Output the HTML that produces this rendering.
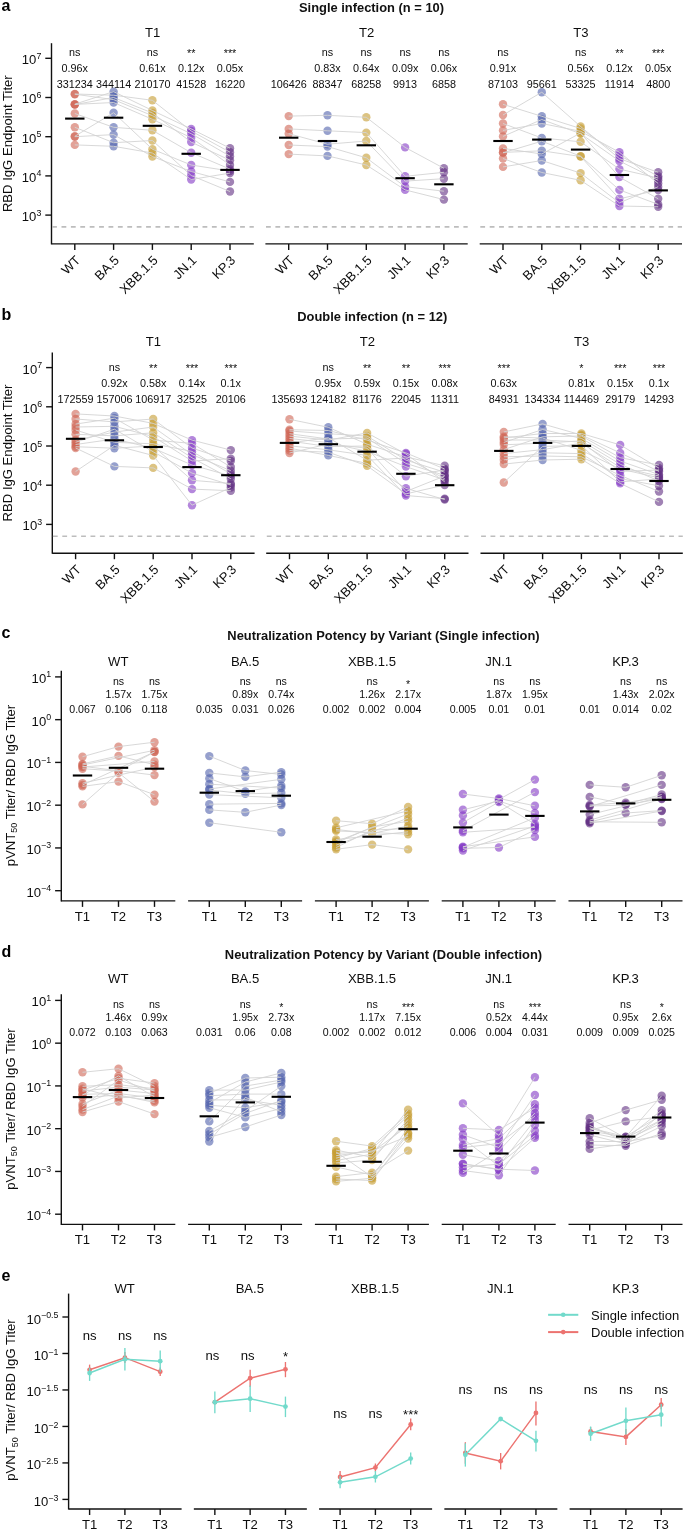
<!DOCTYPE html>
<html><head><meta charset="utf-8"><style>
html,body{margin:0;padding:0;background:#fff;}
svg{display:block;font-family:"Liberation Sans", sans-serif;will-change:transform;}
</style></head><body>
<svg width="685" height="1531" viewBox="0 0 685 1531" font-family='"Liberation Sans", sans-serif'>
<rect width="685" height="1531" fill="#fff"/>
<text x="1.60" y="10.70" font-size="16" text-anchor="start" font-weight="bold" fill="#000" >a</text>
<text x="371.50" y="11.70" font-size="12.9" text-anchor="middle" font-weight="bold" fill="#111" >Single infection (n = 10)</text>
<line x1="51.50" y1="43.20" x2="51.50" y2="244.40" stroke="#111111" stroke-width="1.4" />
<line x1="45.30" y1="58.30" x2="51.50" y2="58.30" stroke="#111111" stroke-width="1.4" />
<text x="41.30" y="64.20" font-size="13.1" text-anchor="end" fill="#0d0d0d">10<tspan font-size="8.8" dy="-5.4">7</tspan></text>
<line x1="45.30" y1="97.50" x2="51.50" y2="97.50" stroke="#111111" stroke-width="1.4" />
<text x="41.30" y="103.40" font-size="13.1" text-anchor="end" fill="#0d0d0d">10<tspan font-size="8.8" dy="-5.4">6</tspan></text>
<line x1="45.30" y1="136.70" x2="51.50" y2="136.70" stroke="#111111" stroke-width="1.4" />
<text x="41.30" y="142.60" font-size="13.1" text-anchor="end" fill="#0d0d0d">10<tspan font-size="8.8" dy="-5.4">5</tspan></text>
<line x1="45.30" y1="175.90" x2="51.50" y2="175.90" stroke="#111111" stroke-width="1.4" />
<text x="41.30" y="181.80" font-size="13.1" text-anchor="end" fill="#0d0d0d">10<tspan font-size="8.8" dy="-5.4">4</tspan></text>
<line x1="45.30" y1="215.10" x2="51.50" y2="215.10" stroke="#111111" stroke-width="1.4" />
<text x="41.30" y="221.00" font-size="13.1" text-anchor="end" fill="#0d0d0d">10<tspan font-size="8.8" dy="-5.4">3</tspan></text>
<text transform="translate(12.2,143.70) rotate(-90)" font-size="13.1" text-anchor="middle" fill="#0d0d0d">RBD IgG Endpoint Titer</text>
<text x="152.65" y="36.50" font-size="13.1" text-anchor="middle" font-weight="normal" fill="#0d0d0d" >T1</text>
<line x1="51.50" y1="243.90" x2="253.80" y2="243.90" stroke="#111111" stroke-width="1.4" />
<line x1="52.10" y1="226.90" x2="253.80" y2="226.90" stroke="#bdbdbd" stroke-width="1.6" stroke-dasharray="4.8,4.6"/>
<line x1="74.80" y1="243.90" x2="74.80" y2="249.90" stroke="#111111" stroke-width="1.4" />
<text transform="translate(74.40,254.40) rotate(-45)" font-size="13" text-anchor="end" dy="0.72em" fill="#0d0d0d">WT</text>
<line x1="113.60" y1="243.90" x2="113.60" y2="249.90" stroke="#111111" stroke-width="1.4" />
<text transform="translate(113.20,254.40) rotate(-45)" font-size="13" text-anchor="end" dy="0.72em" fill="#0d0d0d">BA.5</text>
<line x1="152.40" y1="243.90" x2="152.40" y2="249.90" stroke="#111111" stroke-width="1.4" />
<text transform="translate(152.00,254.40) rotate(-45)" font-size="13" text-anchor="end" dy="0.72em" fill="#0d0d0d">XBB.1.5</text>
<line x1="191.20" y1="243.90" x2="191.20" y2="249.90" stroke="#111111" stroke-width="1.4" />
<text transform="translate(190.80,254.40) rotate(-45)" font-size="13" text-anchor="end" dy="0.72em" fill="#0d0d0d">JN.1</text>
<line x1="230.00" y1="243.90" x2="230.00" y2="249.90" stroke="#111111" stroke-width="1.4" />
<text transform="translate(229.60,254.40) rotate(-45)" font-size="13" text-anchor="end" dy="0.72em" fill="#0d0d0d">KP.3</text>
<circle cx="74.80" cy="94.00" r="4.2" fill="#CF6454" fill-opacity="0.6"/>
<circle cx="74.80" cy="94.20" r="4.2" fill="#CF6454" fill-opacity="0.6"/>
<circle cx="74.80" cy="104.20" r="4.2" fill="#CF6454" fill-opacity="0.6"/>
<circle cx="74.80" cy="104.40" r="4.2" fill="#CF6454" fill-opacity="0.6"/>
<circle cx="74.80" cy="104.60" r="4.2" fill="#CF6454" fill-opacity="0.6"/>
<circle cx="74.80" cy="113.50" r="4.2" fill="#CF6454" fill-opacity="0.6"/>
<circle cx="74.80" cy="127.30" r="4.2" fill="#CF6454" fill-opacity="0.6"/>
<circle cx="74.80" cy="136.30" r="4.2" fill="#CF6454" fill-opacity="0.6"/>
<circle cx="74.80" cy="136.70" r="4.2" fill="#CF6454" fill-opacity="0.6"/>
<circle cx="74.80" cy="144.90" r="4.2" fill="#CF6454" fill-opacity="0.6"/>
<circle cx="113.60" cy="91.60" r="4.2" fill="#5061AC" fill-opacity="0.6"/>
<circle cx="113.60" cy="95.20" r="4.2" fill="#5061AC" fill-opacity="0.6"/>
<circle cx="113.60" cy="97.50" r="4.2" fill="#5061AC" fill-opacity="0.6"/>
<circle cx="113.60" cy="99.60" r="4.2" fill="#5061AC" fill-opacity="0.6"/>
<circle cx="113.60" cy="102.50" r="4.2" fill="#5061AC" fill-opacity="0.6"/>
<circle cx="113.60" cy="112.70" r="4.2" fill="#5061AC" fill-opacity="0.6"/>
<circle cx="113.60" cy="127.30" r="4.2" fill="#5061AC" fill-opacity="0.6"/>
<circle cx="113.60" cy="134.60" r="4.2" fill="#5061AC" fill-opacity="0.6"/>
<circle cx="113.60" cy="142.70" r="4.2" fill="#5061AC" fill-opacity="0.6"/>
<circle cx="113.60" cy="146.30" r="4.2" fill="#5061AC" fill-opacity="0.6"/>
<circle cx="152.40" cy="100.30" r="4.2" fill="#C59B2F" fill-opacity="0.6"/>
<circle cx="152.40" cy="110.50" r="4.2" fill="#C59B2F" fill-opacity="0.6"/>
<circle cx="152.40" cy="113.00" r="4.2" fill="#C59B2F" fill-opacity="0.6"/>
<circle cx="152.40" cy="115.70" r="4.2" fill="#C59B2F" fill-opacity="0.6"/>
<circle cx="152.40" cy="119.30" r="4.2" fill="#C59B2F" fill-opacity="0.6"/>
<circle cx="152.40" cy="130.30" r="4.2" fill="#C59B2F" fill-opacity="0.6"/>
<circle cx="152.40" cy="140.50" r="4.2" fill="#C59B2F" fill-opacity="0.6"/>
<circle cx="152.40" cy="149.20" r="4.2" fill="#C59B2F" fill-opacity="0.6"/>
<circle cx="152.40" cy="153.00" r="4.2" fill="#C59B2F" fill-opacity="0.6"/>
<circle cx="152.40" cy="156.50" r="4.2" fill="#C59B2F" fill-opacity="0.6"/>
<circle cx="191.20" cy="128.90" r="4.2" fill="#8237C5" fill-opacity="0.6"/>
<circle cx="191.20" cy="131.00" r="4.2" fill="#8237C5" fill-opacity="0.6"/>
<circle cx="191.20" cy="133.70" r="4.2" fill="#8237C5" fill-opacity="0.6"/>
<circle cx="191.20" cy="137.70" r="4.2" fill="#8237C5" fill-opacity="0.6"/>
<circle cx="191.20" cy="142.10" r="4.2" fill="#8237C5" fill-opacity="0.6"/>
<circle cx="191.20" cy="152.70" r="4.2" fill="#8237C5" fill-opacity="0.6"/>
<circle cx="191.20" cy="165.00" r="4.2" fill="#8237C5" fill-opacity="0.6"/>
<circle cx="191.20" cy="171.50" r="4.2" fill="#8237C5" fill-opacity="0.6"/>
<circle cx="191.20" cy="175.50" r="4.2" fill="#8237C5" fill-opacity="0.6"/>
<circle cx="191.20" cy="179.50" r="4.2" fill="#8237C5" fill-opacity="0.6"/>
<circle cx="230.00" cy="148.20" r="4.2" fill="#612F82" fill-opacity="0.6"/>
<circle cx="230.00" cy="152.20" r="4.2" fill="#612F82" fill-opacity="0.6"/>
<circle cx="230.00" cy="156.20" r="4.2" fill="#612F82" fill-opacity="0.6"/>
<circle cx="230.00" cy="160.20" r="4.2" fill="#612F82" fill-opacity="0.6"/>
<circle cx="230.00" cy="165.00" r="4.2" fill="#612F82" fill-opacity="0.6"/>
<circle cx="230.00" cy="169.10" r="4.2" fill="#612F82" fill-opacity="0.6"/>
<circle cx="230.00" cy="171.00" r="4.2" fill="#612F82" fill-opacity="0.6"/>
<circle cx="230.00" cy="173.10" r="4.2" fill="#612F82" fill-opacity="0.6"/>
<circle cx="230.00" cy="181.90" r="4.2" fill="#612F82" fill-opacity="0.6"/>
<circle cx="230.00" cy="191.50" r="4.2" fill="#612F82" fill-opacity="0.6"/>
<path d="M74.80,94.00 L113.60,95.20 L152.40,100.30 L191.20,131.00 L230.00,152.20" fill="none" stroke="#d4d4d4" stroke-width="0.9"/>
<path d="M74.80,104.20 L113.60,91.60 L152.40,110.50 L191.20,128.90 L230.00,148.20" fill="none" stroke="#d4d4d4" stroke-width="0.9"/>
<path d="M74.80,94.20 L113.60,99.60 L152.40,115.70 L191.20,133.70 L230.00,156.20" fill="none" stroke="#d4d4d4" stroke-width="0.9"/>
<path d="M74.80,104.60 L113.60,97.50 L152.40,113.00 L191.20,142.10 L230.00,160.20" fill="none" stroke="#d4d4d4" stroke-width="0.9"/>
<path d="M74.80,104.40 L113.60,102.50 L152.40,119.30 L191.20,137.70 L230.00,165.00" fill="none" stroke="#d4d4d4" stroke-width="0.9"/>
<path d="M74.80,113.50 L113.60,127.30 L152.40,130.30 L191.20,152.70 L230.00,169.10" fill="none" stroke="#d4d4d4" stroke-width="0.9"/>
<path d="M74.80,136.30 L113.60,112.70 L152.40,149.20 L191.20,165.00 L230.00,171.00" fill="none" stroke="#d4d4d4" stroke-width="0.9"/>
<path d="M74.80,136.70 L113.60,134.60 L152.40,156.50 L191.20,171.50 L230.00,181.90" fill="none" stroke="#d4d4d4" stroke-width="0.9"/>
<path d="M74.80,127.30 L113.60,142.70 L152.40,140.50 L191.20,175.50 L230.00,191.50" fill="none" stroke="#d4d4d4" stroke-width="0.9"/>
<path d="M74.80,144.90 L113.60,146.30 L152.40,153.00 L191.20,179.50 L230.00,173.10" fill="none" stroke="#d4d4d4" stroke-width="0.9"/>
<line x1="65.10" y1="118.60" x2="84.50" y2="118.60" stroke="#000" stroke-width="2.1" />
<line x1="103.90" y1="117.70" x2="123.30" y2="117.70" stroke="#000" stroke-width="2.1" />
<line x1="142.70" y1="125.80" x2="162.10" y2="125.80" stroke="#000" stroke-width="2.1" />
<line x1="181.50" y1="153.80" x2="200.90" y2="153.80" stroke="#000" stroke-width="2.1" />
<line x1="220.30" y1="169.90" x2="239.70" y2="169.90" stroke="#000" stroke-width="2.1" />
<text x="74.80" y="56.00" font-size="10.8" text-anchor="middle" font-weight="normal" fill="#0d0d0d" >ns</text>
<text x="74.80" y="72.00" font-size="10.8" text-anchor="middle" font-weight="normal" fill="#0d0d0d" >0.96x</text>
<text x="74.80" y="87.60" font-size="10.8" text-anchor="middle" font-weight="normal" fill="#0d0d0d" >331234</text>
<text x="113.60" y="87.60" font-size="10.8" text-anchor="middle" font-weight="normal" fill="#0d0d0d" >344114</text>
<text x="152.40" y="56.00" font-size="10.8" text-anchor="middle" font-weight="normal" fill="#0d0d0d" >ns</text>
<text x="152.40" y="72.00" font-size="10.8" text-anchor="middle" font-weight="normal" fill="#0d0d0d" >0.61x</text>
<text x="152.40" y="87.60" font-size="10.8" text-anchor="middle" font-weight="normal" fill="#0d0d0d" >210170</text>
<text x="191.20" y="56.50" font-size="10.8" text-anchor="middle" font-weight="normal" fill="#0d0d0d" >**</text>
<text x="191.20" y="72.00" font-size="10.8" text-anchor="middle" font-weight="normal" fill="#0d0d0d" >0.12x</text>
<text x="191.20" y="87.60" font-size="10.8" text-anchor="middle" font-weight="normal" fill="#0d0d0d" >41528</text>
<text x="230.00" y="56.50" font-size="10.8" text-anchor="middle" font-weight="normal" fill="#0d0d0d" >***</text>
<text x="230.00" y="72.00" font-size="10.8" text-anchor="middle" font-weight="normal" fill="#0d0d0d" >0.05x</text>
<text x="230.00" y="87.60" font-size="10.8" text-anchor="middle" font-weight="normal" fill="#0d0d0d" >16220</text>
<text x="366.55" y="36.50" font-size="13.1" text-anchor="middle" font-weight="normal" fill="#0d0d0d" >T2</text>
<line x1="265.40" y1="243.90" x2="467.70" y2="243.90" stroke="#111111" stroke-width="1.4" />
<line x1="266.00" y1="226.90" x2="467.70" y2="226.90" stroke="#bdbdbd" stroke-width="1.6" stroke-dasharray="4.8,4.6"/>
<line x1="288.70" y1="243.90" x2="288.70" y2="249.90" stroke="#111111" stroke-width="1.4" />
<text transform="translate(288.30,254.40) rotate(-45)" font-size="13" text-anchor="end" dy="0.72em" fill="#0d0d0d">WT</text>
<line x1="327.50" y1="243.90" x2="327.50" y2="249.90" stroke="#111111" stroke-width="1.4" />
<text transform="translate(327.10,254.40) rotate(-45)" font-size="13" text-anchor="end" dy="0.72em" fill="#0d0d0d">BA.5</text>
<line x1="366.30" y1="243.90" x2="366.30" y2="249.90" stroke="#111111" stroke-width="1.4" />
<text transform="translate(365.90,254.40) rotate(-45)" font-size="13" text-anchor="end" dy="0.72em" fill="#0d0d0d">XBB.1.5</text>
<line x1="405.10" y1="243.90" x2="405.10" y2="249.90" stroke="#111111" stroke-width="1.4" />
<text transform="translate(404.70,254.40) rotate(-45)" font-size="13" text-anchor="end" dy="0.72em" fill="#0d0d0d">JN.1</text>
<line x1="443.90" y1="243.90" x2="443.90" y2="249.90" stroke="#111111" stroke-width="1.4" />
<text transform="translate(443.50,254.40) rotate(-45)" font-size="13" text-anchor="end" dy="0.72em" fill="#0d0d0d">KP.3</text>
<circle cx="288.70" cy="116.10" r="4.2" fill="#CF6454" fill-opacity="0.6"/>
<circle cx="288.70" cy="128.90" r="4.2" fill="#CF6454" fill-opacity="0.6"/>
<circle cx="288.70" cy="133.70" r="4.2" fill="#CF6454" fill-opacity="0.6"/>
<circle cx="288.70" cy="145.00" r="4.2" fill="#CF6454" fill-opacity="0.6"/>
<circle cx="288.70" cy="154.10" r="4.2" fill="#CF6454" fill-opacity="0.6"/>
<circle cx="327.50" cy="115.30" r="4.2" fill="#5061AC" fill-opacity="0.6"/>
<circle cx="327.50" cy="130.80" r="4.2" fill="#5061AC" fill-opacity="0.6"/>
<circle cx="327.50" cy="144.20" r="4.2" fill="#5061AC" fill-opacity="0.6"/>
<circle cx="327.50" cy="146.60" r="4.2" fill="#5061AC" fill-opacity="0.6"/>
<circle cx="327.50" cy="155.90" r="4.2" fill="#5061AC" fill-opacity="0.6"/>
<circle cx="366.30" cy="117.30" r="4.2" fill="#C59B2F" fill-opacity="0.6"/>
<circle cx="366.30" cy="132.60" r="4.2" fill="#C59B2F" fill-opacity="0.6"/>
<circle cx="366.30" cy="141.00" r="4.2" fill="#C59B2F" fill-opacity="0.6"/>
<circle cx="366.30" cy="157.80" r="4.2" fill="#C59B2F" fill-opacity="0.6"/>
<circle cx="366.30" cy="165.00" r="4.2" fill="#C59B2F" fill-opacity="0.6"/>
<circle cx="405.10" cy="147.40" r="4.2" fill="#8237C5" fill-opacity="0.6"/>
<circle cx="405.10" cy="176.30" r="4.2" fill="#8237C5" fill-opacity="0.6"/>
<circle cx="405.10" cy="181.10" r="4.2" fill="#8237C5" fill-opacity="0.6"/>
<circle cx="405.10" cy="186.70" r="4.2" fill="#8237C5" fill-opacity="0.6"/>
<circle cx="405.10" cy="189.90" r="4.2" fill="#8237C5" fill-opacity="0.6"/>
<circle cx="443.90" cy="168.30" r="4.2" fill="#612F82" fill-opacity="0.6"/>
<circle cx="443.90" cy="172.30" r="4.2" fill="#612F82" fill-opacity="0.6"/>
<circle cx="443.90" cy="178.70" r="4.2" fill="#612F82" fill-opacity="0.6"/>
<circle cx="443.90" cy="191.20" r="4.2" fill="#612F82" fill-opacity="0.6"/>
<circle cx="443.90" cy="199.60" r="4.2" fill="#612F82" fill-opacity="0.6"/>
<path d="M288.70,116.10 L327.50,115.30 L366.30,117.30 L405.10,147.40 L443.90,168.30" fill="none" stroke="#d4d4d4" stroke-width="0.9"/>
<path d="M288.70,128.90 L327.50,130.80 L366.30,132.60 L405.10,176.30 L443.90,172.30" fill="none" stroke="#d4d4d4" stroke-width="0.9"/>
<path d="M288.70,133.70 L327.50,144.20 L366.30,141.00 L405.10,181.10 L443.90,178.70" fill="none" stroke="#d4d4d4" stroke-width="0.9"/>
<path d="M288.70,145.00 L327.50,146.60 L366.30,157.80 L405.10,186.70 L443.90,191.20" fill="none" stroke="#d4d4d4" stroke-width="0.9"/>
<path d="M288.70,154.10 L327.50,155.90 L366.30,165.00 L405.10,189.90 L443.90,199.60" fill="none" stroke="#d4d4d4" stroke-width="0.9"/>
<line x1="279.00" y1="137.70" x2="298.40" y2="137.70" stroke="#000" stroke-width="2.1" />
<line x1="317.80" y1="141.00" x2="337.20" y2="141.00" stroke="#000" stroke-width="2.1" />
<line x1="356.60" y1="145.30" x2="376.00" y2="145.30" stroke="#000" stroke-width="2.1" />
<line x1="395.40" y1="178.20" x2="414.80" y2="178.20" stroke="#000" stroke-width="2.1" />
<line x1="434.20" y1="184.30" x2="453.60" y2="184.30" stroke="#000" stroke-width="2.1" />
<text x="288.70" y="87.60" font-size="10.8" text-anchor="middle" font-weight="normal" fill="#0d0d0d" >106426</text>
<text x="327.50" y="56.00" font-size="10.8" text-anchor="middle" font-weight="normal" fill="#0d0d0d" >ns</text>
<text x="327.50" y="72.00" font-size="10.8" text-anchor="middle" font-weight="normal" fill="#0d0d0d" >0.83x</text>
<text x="327.50" y="87.60" font-size="10.8" text-anchor="middle" font-weight="normal" fill="#0d0d0d" >88347</text>
<text x="366.30" y="56.00" font-size="10.8" text-anchor="middle" font-weight="normal" fill="#0d0d0d" >ns</text>
<text x="366.30" y="72.00" font-size="10.8" text-anchor="middle" font-weight="normal" fill="#0d0d0d" >0.64x</text>
<text x="366.30" y="87.60" font-size="10.8" text-anchor="middle" font-weight="normal" fill="#0d0d0d" >68258</text>
<text x="405.10" y="56.00" font-size="10.8" text-anchor="middle" font-weight="normal" fill="#0d0d0d" >ns</text>
<text x="405.10" y="72.00" font-size="10.8" text-anchor="middle" font-weight="normal" fill="#0d0d0d" >0.09x</text>
<text x="405.10" y="87.60" font-size="10.8" text-anchor="middle" font-weight="normal" fill="#0d0d0d" >9913</text>
<text x="443.90" y="56.00" font-size="10.8" text-anchor="middle" font-weight="normal" fill="#0d0d0d" >ns</text>
<text x="443.90" y="72.00" font-size="10.8" text-anchor="middle" font-weight="normal" fill="#0d0d0d" >0.06x</text>
<text x="443.90" y="87.60" font-size="10.8" text-anchor="middle" font-weight="normal" fill="#0d0d0d" >6858</text>
<text x="580.85" y="36.50" font-size="13.1" text-anchor="middle" font-weight="normal" fill="#0d0d0d" >T3</text>
<line x1="479.70" y1="243.90" x2="682.00" y2="243.90" stroke="#111111" stroke-width="1.4" />
<line x1="480.30" y1="226.90" x2="682.00" y2="226.90" stroke="#bdbdbd" stroke-width="1.6" stroke-dasharray="4.8,4.6"/>
<line x1="503.00" y1="243.90" x2="503.00" y2="249.90" stroke="#111111" stroke-width="1.4" />
<text transform="translate(502.60,254.40) rotate(-45)" font-size="13" text-anchor="end" dy="0.72em" fill="#0d0d0d">WT</text>
<line x1="541.80" y1="243.90" x2="541.80" y2="249.90" stroke="#111111" stroke-width="1.4" />
<text transform="translate(541.40,254.40) rotate(-45)" font-size="13" text-anchor="end" dy="0.72em" fill="#0d0d0d">BA.5</text>
<line x1="580.60" y1="243.90" x2="580.60" y2="249.90" stroke="#111111" stroke-width="1.4" />
<text transform="translate(580.20,254.40) rotate(-45)" font-size="13" text-anchor="end" dy="0.72em" fill="#0d0d0d">XBB.1.5</text>
<line x1="619.40" y1="243.90" x2="619.40" y2="249.90" stroke="#111111" stroke-width="1.4" />
<text transform="translate(619.00,254.40) rotate(-45)" font-size="13" text-anchor="end" dy="0.72em" fill="#0d0d0d">JN.1</text>
<line x1="658.20" y1="243.90" x2="658.20" y2="249.90" stroke="#111111" stroke-width="1.4" />
<text transform="translate(657.80,254.40) rotate(-45)" font-size="13" text-anchor="end" dy="0.72em" fill="#0d0d0d">KP.3</text>
<circle cx="503.00" cy="104.30" r="4.2" fill="#CF6454" fill-opacity="0.6"/>
<circle cx="503.00" cy="115.00" r="4.2" fill="#CF6454" fill-opacity="0.6"/>
<circle cx="503.00" cy="123.50" r="4.2" fill="#CF6454" fill-opacity="0.6"/>
<circle cx="503.00" cy="130.40" r="4.2" fill="#CF6454" fill-opacity="0.6"/>
<circle cx="503.00" cy="136.40" r="4.2" fill="#CF6454" fill-opacity="0.6"/>
<circle cx="503.00" cy="148.40" r="4.2" fill="#CF6454" fill-opacity="0.6"/>
<circle cx="503.00" cy="152.40" r="4.2" fill="#CF6454" fill-opacity="0.6"/>
<circle cx="503.00" cy="152.80" r="4.2" fill="#CF6454" fill-opacity="0.6"/>
<circle cx="503.00" cy="158.50" r="4.2" fill="#CF6454" fill-opacity="0.6"/>
<circle cx="503.00" cy="166.90" r="4.2" fill="#CF6454" fill-opacity="0.6"/>
<circle cx="541.80" cy="92.20" r="4.2" fill="#5061AC" fill-opacity="0.6"/>
<circle cx="541.80" cy="116.30" r="4.2" fill="#5061AC" fill-opacity="0.6"/>
<circle cx="541.80" cy="119.50" r="4.2" fill="#5061AC" fill-opacity="0.6"/>
<circle cx="541.80" cy="123.50" r="4.2" fill="#5061AC" fill-opacity="0.6"/>
<circle cx="541.80" cy="138.00" r="4.2" fill="#5061AC" fill-opacity="0.6"/>
<circle cx="541.80" cy="141.20" r="4.2" fill="#5061AC" fill-opacity="0.6"/>
<circle cx="541.80" cy="150.80" r="4.2" fill="#5061AC" fill-opacity="0.6"/>
<circle cx="541.80" cy="154.00" r="4.2" fill="#5061AC" fill-opacity="0.6"/>
<circle cx="541.80" cy="160.50" r="4.2" fill="#5061AC" fill-opacity="0.6"/>
<circle cx="541.80" cy="172.50" r="4.2" fill="#5061AC" fill-opacity="0.6"/>
<circle cx="580.60" cy="126.50" r="4.2" fill="#C59B2F" fill-opacity="0.6"/>
<circle cx="580.60" cy="128.50" r="4.2" fill="#C59B2F" fill-opacity="0.6"/>
<circle cx="580.60" cy="131.30" r="4.2" fill="#C59B2F" fill-opacity="0.6"/>
<circle cx="580.60" cy="133.00" r="4.2" fill="#C59B2F" fill-opacity="0.6"/>
<circle cx="580.60" cy="133.70" r="4.2" fill="#C59B2F" fill-opacity="0.6"/>
<circle cx="580.60" cy="141.80" r="4.2" fill="#C59B2F" fill-opacity="0.6"/>
<circle cx="580.60" cy="156.20" r="4.2" fill="#C59B2F" fill-opacity="0.6"/>
<circle cx="580.60" cy="156.50" r="4.2" fill="#C59B2F" fill-opacity="0.6"/>
<circle cx="580.60" cy="173.10" r="4.2" fill="#C59B2F" fill-opacity="0.6"/>
<circle cx="580.60" cy="180.30" r="4.2" fill="#C59B2F" fill-opacity="0.6"/>
<circle cx="619.40" cy="152.20" r="4.2" fill="#8237C5" fill-opacity="0.6"/>
<circle cx="619.40" cy="155.40" r="4.2" fill="#8237C5" fill-opacity="0.6"/>
<circle cx="619.40" cy="158.60" r="4.2" fill="#8237C5" fill-opacity="0.6"/>
<circle cx="619.40" cy="161.00" r="4.2" fill="#8237C5" fill-opacity="0.6"/>
<circle cx="619.40" cy="169.10" r="4.2" fill="#8237C5" fill-opacity="0.6"/>
<circle cx="619.40" cy="177.10" r="4.2" fill="#8237C5" fill-opacity="0.6"/>
<circle cx="619.40" cy="189.90" r="4.2" fill="#8237C5" fill-opacity="0.6"/>
<circle cx="619.40" cy="198.80" r="4.2" fill="#8237C5" fill-opacity="0.6"/>
<circle cx="619.40" cy="202.80" r="4.2" fill="#8237C5" fill-opacity="0.6"/>
<circle cx="619.40" cy="206.00" r="4.2" fill="#8237C5" fill-opacity="0.6"/>
<circle cx="658.20" cy="172.30" r="4.2" fill="#612F82" fill-opacity="0.6"/>
<circle cx="658.20" cy="176.30" r="4.2" fill="#612F82" fill-opacity="0.6"/>
<circle cx="658.20" cy="178.00" r="4.2" fill="#612F82" fill-opacity="0.6"/>
<circle cx="658.20" cy="180.30" r="4.2" fill="#612F82" fill-opacity="0.6"/>
<circle cx="658.20" cy="183.50" r="4.2" fill="#612F82" fill-opacity="0.6"/>
<circle cx="658.20" cy="186.70" r="4.2" fill="#612F82" fill-opacity="0.6"/>
<circle cx="658.20" cy="190.00" r="4.2" fill="#612F82" fill-opacity="0.6"/>
<circle cx="658.20" cy="198.80" r="4.2" fill="#612F82" fill-opacity="0.6"/>
<circle cx="658.20" cy="204.40" r="4.2" fill="#612F82" fill-opacity="0.6"/>
<circle cx="658.20" cy="206.80" r="4.2" fill="#612F82" fill-opacity="0.6"/>
<path d="M503.00,115.00 L541.80,92.20 L580.60,126.50 L619.40,158.60 L658.20,172.30" fill="none" stroke="#d4d4d4" stroke-width="0.9"/>
<path d="M503.00,104.30 L541.80,116.30 L580.60,128.50 L619.40,155.40 L658.20,176.30" fill="none" stroke="#d4d4d4" stroke-width="0.9"/>
<path d="M503.00,130.40 L541.80,123.50 L580.60,131.30 L619.40,152.20 L658.20,183.50" fill="none" stroke="#d4d4d4" stroke-width="0.9"/>
<path d="M503.00,136.40 L541.80,119.50 L580.60,133.70 L619.40,161.00 L658.20,180.30" fill="none" stroke="#d4d4d4" stroke-width="0.9"/>
<path d="M503.00,123.50 L541.80,138.00 L580.60,141.80 L619.40,169.10 L658.20,178.00" fill="none" stroke="#d4d4d4" stroke-width="0.9"/>
<path d="M503.00,148.40 L541.80,154.00 L580.60,133.00 L619.40,177.10 L658.20,198.80" fill="none" stroke="#d4d4d4" stroke-width="0.9"/>
<path d="M503.00,152.80 L541.80,141.20 L580.60,156.20 L619.40,189.90 L658.20,204.40" fill="none" stroke="#d4d4d4" stroke-width="0.9"/>
<path d="M503.00,152.40 L541.80,150.80 L580.60,156.50 L619.40,198.80 L658.20,190.00" fill="none" stroke="#d4d4d4" stroke-width="0.9"/>
<path d="M503.00,166.90 L541.80,160.50 L580.60,173.10 L619.40,202.80 L658.20,186.70" fill="none" stroke="#d4d4d4" stroke-width="0.9"/>
<path d="M503.00,158.50 L541.80,172.50 L580.60,180.30 L619.40,206.00 L658.20,206.80" fill="none" stroke="#d4d4d4" stroke-width="0.9"/>
<line x1="493.30" y1="141.00" x2="512.70" y2="141.00" stroke="#000" stroke-width="2.1" />
<line x1="532.10" y1="139.60" x2="551.50" y2="139.60" stroke="#000" stroke-width="2.1" />
<line x1="570.90" y1="149.60" x2="590.30" y2="149.60" stroke="#000" stroke-width="2.1" />
<line x1="609.70" y1="175.00" x2="629.10" y2="175.00" stroke="#000" stroke-width="2.1" />
<line x1="648.50" y1="190.40" x2="667.90" y2="190.40" stroke="#000" stroke-width="2.1" />
<text x="503.00" y="56.00" font-size="10.8" text-anchor="middle" font-weight="normal" fill="#0d0d0d" >ns</text>
<text x="503.00" y="72.00" font-size="10.8" text-anchor="middle" font-weight="normal" fill="#0d0d0d" >0.91x</text>
<text x="503.00" y="87.60" font-size="10.8" text-anchor="middle" font-weight="normal" fill="#0d0d0d" >87103</text>
<text x="541.80" y="87.60" font-size="10.8" text-anchor="middle" font-weight="normal" fill="#0d0d0d" >95661</text>
<text x="580.60" y="56.00" font-size="10.8" text-anchor="middle" font-weight="normal" fill="#0d0d0d" >ns</text>
<text x="580.60" y="72.00" font-size="10.8" text-anchor="middle" font-weight="normal" fill="#0d0d0d" >0.56x</text>
<text x="580.60" y="87.60" font-size="10.8" text-anchor="middle" font-weight="normal" fill="#0d0d0d" >53325</text>
<text x="619.40" y="56.50" font-size="10.8" text-anchor="middle" font-weight="normal" fill="#0d0d0d" >**</text>
<text x="619.40" y="72.00" font-size="10.8" text-anchor="middle" font-weight="normal" fill="#0d0d0d" >0.12x</text>
<text x="619.40" y="87.60" font-size="10.8" text-anchor="middle" font-weight="normal" fill="#0d0d0d" >11914</text>
<text x="658.20" y="56.50" font-size="10.8" text-anchor="middle" font-weight="normal" fill="#0d0d0d" >***</text>
<text x="658.20" y="72.00" font-size="10.8" text-anchor="middle" font-weight="normal" fill="#0d0d0d" >0.05x</text>
<text x="658.20" y="87.60" font-size="10.8" text-anchor="middle" font-weight="normal" fill="#0d0d0d" >4800</text>
<text x="1.60" y="319.70" font-size="16" text-anchor="start" font-weight="bold" fill="#000" >b</text>
<text x="372.30" y="321.20" font-size="12.9" text-anchor="middle" font-weight="bold" fill="#111" >Double infection (n = 12)</text>
<line x1="52.30" y1="352.50" x2="52.30" y2="553.70" stroke="#111111" stroke-width="1.4" />
<line x1="46.10" y1="367.60" x2="52.30" y2="367.60" stroke="#111111" stroke-width="1.4" />
<text x="42.10" y="373.50" font-size="13.1" text-anchor="end" fill="#0d0d0d">10<tspan font-size="8.8" dy="-5.4">7</tspan></text>
<line x1="46.10" y1="406.80" x2="52.30" y2="406.80" stroke="#111111" stroke-width="1.4" />
<text x="42.10" y="412.70" font-size="13.1" text-anchor="end" fill="#0d0d0d">10<tspan font-size="8.8" dy="-5.4">6</tspan></text>
<line x1="46.10" y1="446.00" x2="52.30" y2="446.00" stroke="#111111" stroke-width="1.4" />
<text x="42.10" y="451.90" font-size="13.1" text-anchor="end" fill="#0d0d0d">10<tspan font-size="8.8" dy="-5.4">5</tspan></text>
<line x1="46.10" y1="485.20" x2="52.30" y2="485.20" stroke="#111111" stroke-width="1.4" />
<text x="42.10" y="491.10" font-size="13.1" text-anchor="end" fill="#0d0d0d">10<tspan font-size="8.8" dy="-5.4">4</tspan></text>
<line x1="46.10" y1="524.40" x2="52.30" y2="524.40" stroke="#111111" stroke-width="1.4" />
<text x="42.10" y="530.30" font-size="13.1" text-anchor="end" fill="#0d0d0d">10<tspan font-size="8.8" dy="-5.4">3</tspan></text>
<text transform="translate(12.2,453.00) rotate(-90)" font-size="13.1" text-anchor="middle" fill="#0d0d0d">RBD IgG Endpoint Titer</text>
<text x="153.45" y="345.60" font-size="13.1" text-anchor="middle" font-weight="normal" fill="#0d0d0d" >T1</text>
<line x1="52.30" y1="553.20" x2="254.60" y2="553.20" stroke="#111111" stroke-width="1.4" />
<line x1="52.90" y1="536.20" x2="254.60" y2="536.20" stroke="#bdbdbd" stroke-width="1.6" stroke-dasharray="4.8,4.6"/>
<line x1="75.60" y1="553.20" x2="75.60" y2="559.20" stroke="#111111" stroke-width="1.4" />
<text transform="translate(75.20,563.70) rotate(-45)" font-size="13" text-anchor="end" dy="0.72em" fill="#0d0d0d">WT</text>
<line x1="114.40" y1="553.20" x2="114.40" y2="559.20" stroke="#111111" stroke-width="1.4" />
<text transform="translate(114.00,563.70) rotate(-45)" font-size="13" text-anchor="end" dy="0.72em" fill="#0d0d0d">BA.5</text>
<line x1="153.20" y1="553.20" x2="153.20" y2="559.20" stroke="#111111" stroke-width="1.4" />
<text transform="translate(152.80,563.70) rotate(-45)" font-size="13" text-anchor="end" dy="0.72em" fill="#0d0d0d">XBB.1.5</text>
<line x1="192.00" y1="553.20" x2="192.00" y2="559.20" stroke="#111111" stroke-width="1.4" />
<text transform="translate(191.60,563.70) rotate(-45)" font-size="13" text-anchor="end" dy="0.72em" fill="#0d0d0d">JN.1</text>
<line x1="230.80" y1="553.20" x2="230.80" y2="559.20" stroke="#111111" stroke-width="1.4" />
<text transform="translate(230.40,563.70) rotate(-45)" font-size="13" text-anchor="end" dy="0.72em" fill="#0d0d0d">KP.3</text>
<circle cx="75.60" cy="413.90" r="4.2" fill="#CF6454" fill-opacity="0.6"/>
<circle cx="75.60" cy="419.00" r="4.2" fill="#CF6454" fill-opacity="0.6"/>
<circle cx="75.60" cy="424.10" r="4.2" fill="#CF6454" fill-opacity="0.6"/>
<circle cx="75.60" cy="427.00" r="4.2" fill="#CF6454" fill-opacity="0.6"/>
<circle cx="75.60" cy="430.00" r="4.2" fill="#CF6454" fill-opacity="0.6"/>
<circle cx="75.60" cy="434.30" r="4.2" fill="#CF6454" fill-opacity="0.6"/>
<circle cx="75.60" cy="440.00" r="4.2" fill="#CF6454" fill-opacity="0.6"/>
<circle cx="75.60" cy="442.30" r="4.2" fill="#CF6454" fill-opacity="0.6"/>
<circle cx="75.60" cy="444.50" r="4.2" fill="#CF6454" fill-opacity="0.6"/>
<circle cx="75.60" cy="446.70" r="4.2" fill="#CF6454" fill-opacity="0.6"/>
<circle cx="75.60" cy="448.00" r="4.2" fill="#CF6454" fill-opacity="0.6"/>
<circle cx="75.60" cy="471.50" r="4.2" fill="#CF6454" fill-opacity="0.6"/>
<circle cx="114.40" cy="416.00" r="4.2" fill="#5061AC" fill-opacity="0.6"/>
<circle cx="114.40" cy="418.20" r="4.2" fill="#5061AC" fill-opacity="0.6"/>
<circle cx="114.40" cy="421.90" r="4.2" fill="#5061AC" fill-opacity="0.6"/>
<circle cx="114.40" cy="426.30" r="4.2" fill="#5061AC" fill-opacity="0.6"/>
<circle cx="114.40" cy="429.20" r="4.2" fill="#5061AC" fill-opacity="0.6"/>
<circle cx="114.40" cy="432.10" r="4.2" fill="#5061AC" fill-opacity="0.6"/>
<circle cx="114.40" cy="435.80" r="4.2" fill="#5061AC" fill-opacity="0.6"/>
<circle cx="114.40" cy="439.00" r="4.2" fill="#5061AC" fill-opacity="0.6"/>
<circle cx="114.40" cy="442.30" r="4.2" fill="#5061AC" fill-opacity="0.6"/>
<circle cx="114.40" cy="445.30" r="4.2" fill="#5061AC" fill-opacity="0.6"/>
<circle cx="114.40" cy="448.20" r="4.2" fill="#5061AC" fill-opacity="0.6"/>
<circle cx="114.40" cy="466.40" r="4.2" fill="#5061AC" fill-opacity="0.6"/>
<circle cx="153.20" cy="419.00" r="4.2" fill="#C59B2F" fill-opacity="0.6"/>
<circle cx="153.20" cy="423.40" r="4.2" fill="#C59B2F" fill-opacity="0.6"/>
<circle cx="153.20" cy="427.00" r="4.2" fill="#C59B2F" fill-opacity="0.6"/>
<circle cx="153.20" cy="432.80" r="4.2" fill="#C59B2F" fill-opacity="0.6"/>
<circle cx="153.20" cy="436.50" r="4.2" fill="#C59B2F" fill-opacity="0.6"/>
<circle cx="153.20" cy="440.10" r="4.2" fill="#C59B2F" fill-opacity="0.6"/>
<circle cx="153.20" cy="443.80" r="4.2" fill="#C59B2F" fill-opacity="0.6"/>
<circle cx="153.20" cy="446.00" r="4.2" fill="#C59B2F" fill-opacity="0.6"/>
<circle cx="153.20" cy="448.20" r="4.2" fill="#C59B2F" fill-opacity="0.6"/>
<circle cx="153.20" cy="451.80" r="4.2" fill="#C59B2F" fill-opacity="0.6"/>
<circle cx="153.20" cy="455.50" r="4.2" fill="#C59B2F" fill-opacity="0.6"/>
<circle cx="153.20" cy="467.90" r="4.2" fill="#C59B2F" fill-opacity="0.6"/>
<circle cx="192.00" cy="440.10" r="4.2" fill="#8237C5" fill-opacity="0.6"/>
<circle cx="192.00" cy="443.40" r="4.2" fill="#8237C5" fill-opacity="0.6"/>
<circle cx="192.00" cy="448.00" r="4.2" fill="#8237C5" fill-opacity="0.6"/>
<circle cx="192.00" cy="451.40" r="4.2" fill="#8237C5" fill-opacity="0.6"/>
<circle cx="192.00" cy="454.60" r="4.2" fill="#8237C5" fill-opacity="0.6"/>
<circle cx="192.00" cy="457.80" r="4.2" fill="#8237C5" fill-opacity="0.6"/>
<circle cx="192.00" cy="461.00" r="4.2" fill="#8237C5" fill-opacity="0.6"/>
<circle cx="192.00" cy="465.00" r="4.2" fill="#8237C5" fill-opacity="0.6"/>
<circle cx="192.00" cy="473.10" r="4.2" fill="#8237C5" fill-opacity="0.6"/>
<circle cx="192.00" cy="480.30" r="4.2" fill="#8237C5" fill-opacity="0.6"/>
<circle cx="192.00" cy="489.10" r="4.2" fill="#8237C5" fill-opacity="0.6"/>
<circle cx="192.00" cy="505.20" r="4.2" fill="#8237C5" fill-opacity="0.6"/>
<circle cx="230.80" cy="450.10" r="4.2" fill="#612F82" fill-opacity="0.6"/>
<circle cx="230.80" cy="458.60" r="4.2" fill="#612F82" fill-opacity="0.6"/>
<circle cx="230.80" cy="461.00" r="4.2" fill="#612F82" fill-opacity="0.6"/>
<circle cx="230.80" cy="467.00" r="4.2" fill="#612F82" fill-opacity="0.6"/>
<circle cx="230.80" cy="470.70" r="4.2" fill="#612F82" fill-opacity="0.6"/>
<circle cx="230.80" cy="473.90" r="4.2" fill="#612F82" fill-opacity="0.6"/>
<circle cx="230.80" cy="476.00" r="4.2" fill="#612F82" fill-opacity="0.6"/>
<circle cx="230.80" cy="478.70" r="4.2" fill="#612F82" fill-opacity="0.6"/>
<circle cx="230.80" cy="483.50" r="4.2" fill="#612F82" fill-opacity="0.6"/>
<circle cx="230.80" cy="485.00" r="4.2" fill="#612F82" fill-opacity="0.6"/>
<circle cx="230.80" cy="487.50" r="4.2" fill="#612F82" fill-opacity="0.6"/>
<circle cx="230.80" cy="490.70" r="4.2" fill="#612F82" fill-opacity="0.6"/>
<path d="M75.60,413.90 L114.40,416.00 L153.20,423.40 L192.00,440.10 L230.80,450.10" fill="none" stroke="#d4d4d4" stroke-width="0.9"/>
<path d="M75.60,419.00 L114.40,421.90 L153.20,419.00 L192.00,448.00 L230.80,461.00" fill="none" stroke="#d4d4d4" stroke-width="0.9"/>
<path d="M75.60,424.10 L114.40,418.20 L153.20,440.10 L192.00,443.40 L230.80,467.00" fill="none" stroke="#d4d4d4" stroke-width="0.9"/>
<path d="M75.60,427.00 L114.40,426.30 L153.20,436.50 L192.00,461.00 L230.80,458.60" fill="none" stroke="#d4d4d4" stroke-width="0.9"/>
<path d="M75.60,440.00 L114.40,432.10 L153.20,427.00 L192.00,454.60 L230.80,470.70" fill="none" stroke="#d4d4d4" stroke-width="0.9"/>
<path d="M75.60,434.30 L114.40,435.80 L153.20,432.80 L192.00,457.80 L230.80,478.70" fill="none" stroke="#d4d4d4" stroke-width="0.9"/>
<path d="M75.60,430.00 L114.40,442.30 L153.20,443.80 L192.00,451.40 L230.80,473.90" fill="none" stroke="#d4d4d4" stroke-width="0.9"/>
<path d="M75.60,444.50 L114.40,439.00 L153.20,448.20 L192.00,465.00 L230.80,476.00" fill="none" stroke="#d4d4d4" stroke-width="0.9"/>
<path d="M75.60,442.30 L114.40,429.20 L153.20,451.80 L192.00,473.10 L230.80,485.00" fill="none" stroke="#d4d4d4" stroke-width="0.9"/>
<path d="M75.60,471.50 L114.40,445.30 L153.20,455.50 L192.00,505.20 L230.80,487.50" fill="none" stroke="#d4d4d4" stroke-width="0.9"/>
<path d="M75.60,446.70 L114.40,448.20 L153.20,446.00 L192.00,480.30 L230.80,483.50" fill="none" stroke="#d4d4d4" stroke-width="0.9"/>
<path d="M75.60,448.00 L114.40,466.40 L153.20,467.90 L192.00,489.10 L230.80,490.70" fill="none" stroke="#d4d4d4" stroke-width="0.9"/>
<line x1="65.90" y1="438.80" x2="85.30" y2="438.80" stroke="#000" stroke-width="2.1" />
<line x1="104.70" y1="440.30" x2="124.10" y2="440.30" stroke="#000" stroke-width="2.1" />
<line x1="143.50" y1="447.00" x2="162.90" y2="447.00" stroke="#000" stroke-width="2.1" />
<line x1="182.30" y1="467.10" x2="201.70" y2="467.10" stroke="#000" stroke-width="2.1" />
<line x1="221.10" y1="475.20" x2="240.50" y2="475.20" stroke="#000" stroke-width="2.1" />
<text x="75.60" y="402.90" font-size="10.8" text-anchor="middle" font-weight="normal" fill="#0d0d0d" >172559</text>
<text x="114.40" y="371.30" font-size="10.8" text-anchor="middle" font-weight="normal" fill="#0d0d0d" >ns</text>
<text x="114.40" y="387.30" font-size="10.8" text-anchor="middle" font-weight="normal" fill="#0d0d0d" >0.92x</text>
<text x="114.40" y="402.90" font-size="10.8" text-anchor="middle" font-weight="normal" fill="#0d0d0d" >157006</text>
<text x="153.20" y="371.80" font-size="10.8" text-anchor="middle" font-weight="normal" fill="#0d0d0d" >**</text>
<text x="153.20" y="387.30" font-size="10.8" text-anchor="middle" font-weight="normal" fill="#0d0d0d" >0.58x</text>
<text x="153.20" y="402.90" font-size="10.8" text-anchor="middle" font-weight="normal" fill="#0d0d0d" >106917</text>
<text x="192.00" y="371.80" font-size="10.8" text-anchor="middle" font-weight="normal" fill="#0d0d0d" >***</text>
<text x="192.00" y="387.30" font-size="10.8" text-anchor="middle" font-weight="normal" fill="#0d0d0d" >0.14x</text>
<text x="192.00" y="402.90" font-size="10.8" text-anchor="middle" font-weight="normal" fill="#0d0d0d" >32525</text>
<text x="230.80" y="371.80" font-size="10.8" text-anchor="middle" font-weight="normal" fill="#0d0d0d" >***</text>
<text x="230.80" y="387.30" font-size="10.8" text-anchor="middle" font-weight="normal" fill="#0d0d0d" >0.1x</text>
<text x="230.80" y="402.90" font-size="10.8" text-anchor="middle" font-weight="normal" fill="#0d0d0d" >20106</text>
<text x="367.35" y="345.60" font-size="13.1" text-anchor="middle" font-weight="normal" fill="#0d0d0d" >T2</text>
<line x1="266.20" y1="553.20" x2="468.50" y2="553.20" stroke="#111111" stroke-width="1.4" />
<line x1="266.80" y1="536.20" x2="468.50" y2="536.20" stroke="#bdbdbd" stroke-width="1.6" stroke-dasharray="4.8,4.6"/>
<line x1="289.50" y1="553.20" x2="289.50" y2="559.20" stroke="#111111" stroke-width="1.4" />
<text transform="translate(289.10,563.70) rotate(-45)" font-size="13" text-anchor="end" dy="0.72em" fill="#0d0d0d">WT</text>
<line x1="328.30" y1="553.20" x2="328.30" y2="559.20" stroke="#111111" stroke-width="1.4" />
<text transform="translate(327.90,563.70) rotate(-45)" font-size="13" text-anchor="end" dy="0.72em" fill="#0d0d0d">BA.5</text>
<line x1="367.10" y1="553.20" x2="367.10" y2="559.20" stroke="#111111" stroke-width="1.4" />
<text transform="translate(366.70,563.70) rotate(-45)" font-size="13" text-anchor="end" dy="0.72em" fill="#0d0d0d">XBB.1.5</text>
<line x1="405.90" y1="553.20" x2="405.90" y2="559.20" stroke="#111111" stroke-width="1.4" />
<text transform="translate(405.50,563.70) rotate(-45)" font-size="13" text-anchor="end" dy="0.72em" fill="#0d0d0d">JN.1</text>
<line x1="444.70" y1="553.20" x2="444.70" y2="559.20" stroke="#111111" stroke-width="1.4" />
<text transform="translate(444.30,563.70) rotate(-45)" font-size="13" text-anchor="end" dy="0.72em" fill="#0d0d0d">KP.3</text>
<circle cx="289.50" cy="419.30" r="4.2" fill="#CF6454" fill-opacity="0.6"/>
<circle cx="289.50" cy="429.70" r="4.2" fill="#CF6454" fill-opacity="0.6"/>
<circle cx="289.50" cy="431.00" r="4.2" fill="#CF6454" fill-opacity="0.6"/>
<circle cx="289.50" cy="433.70" r="4.2" fill="#CF6454" fill-opacity="0.6"/>
<circle cx="289.50" cy="436.10" r="4.2" fill="#CF6454" fill-opacity="0.6"/>
<circle cx="289.50" cy="438.50" r="4.2" fill="#CF6454" fill-opacity="0.6"/>
<circle cx="289.50" cy="441.00" r="4.2" fill="#CF6454" fill-opacity="0.6"/>
<circle cx="289.50" cy="443.00" r="4.2" fill="#CF6454" fill-opacity="0.6"/>
<circle cx="289.50" cy="445.80" r="4.2" fill="#CF6454" fill-opacity="0.6"/>
<circle cx="289.50" cy="448.20" r="4.2" fill="#CF6454" fill-opacity="0.6"/>
<circle cx="289.50" cy="450.60" r="4.2" fill="#CF6454" fill-opacity="0.6"/>
<circle cx="289.50" cy="453.00" r="4.2" fill="#CF6454" fill-opacity="0.6"/>
<circle cx="328.30" cy="427.30" r="4.2" fill="#5061AC" fill-opacity="0.6"/>
<circle cx="328.30" cy="430.50" r="4.2" fill="#5061AC" fill-opacity="0.6"/>
<circle cx="328.30" cy="433.70" r="4.2" fill="#5061AC" fill-opacity="0.6"/>
<circle cx="328.30" cy="437.70" r="4.2" fill="#5061AC" fill-opacity="0.6"/>
<circle cx="328.30" cy="439.00" r="4.2" fill="#5061AC" fill-opacity="0.6"/>
<circle cx="328.30" cy="440.10" r="4.2" fill="#5061AC" fill-opacity="0.6"/>
<circle cx="328.30" cy="442.60" r="4.2" fill="#5061AC" fill-opacity="0.6"/>
<circle cx="328.30" cy="444.00" r="4.2" fill="#5061AC" fill-opacity="0.6"/>
<circle cx="328.30" cy="446.60" r="4.2" fill="#5061AC" fill-opacity="0.6"/>
<circle cx="328.30" cy="449.80" r="4.2" fill="#5061AC" fill-opacity="0.6"/>
<circle cx="328.30" cy="452.20" r="4.2" fill="#5061AC" fill-opacity="0.6"/>
<circle cx="328.30" cy="455.40" r="4.2" fill="#5061AC" fill-opacity="0.6"/>
<circle cx="367.10" cy="432.90" r="4.2" fill="#C59B2F" fill-opacity="0.6"/>
<circle cx="367.10" cy="436.10" r="4.2" fill="#C59B2F" fill-opacity="0.6"/>
<circle cx="367.10" cy="438.00" r="4.2" fill="#C59B2F" fill-opacity="0.6"/>
<circle cx="367.10" cy="440.10" r="4.2" fill="#C59B2F" fill-opacity="0.6"/>
<circle cx="367.10" cy="444.20" r="4.2" fill="#C59B2F" fill-opacity="0.6"/>
<circle cx="367.10" cy="446.00" r="4.2" fill="#C59B2F" fill-opacity="0.6"/>
<circle cx="367.10" cy="448.20" r="4.2" fill="#C59B2F" fill-opacity="0.6"/>
<circle cx="367.10" cy="451.40" r="4.2" fill="#C59B2F" fill-opacity="0.6"/>
<circle cx="367.10" cy="455.40" r="4.2" fill="#C59B2F" fill-opacity="0.6"/>
<circle cx="367.10" cy="460.20" r="4.2" fill="#C59B2F" fill-opacity="0.6"/>
<circle cx="367.10" cy="463.40" r="4.2" fill="#C59B2F" fill-opacity="0.6"/>
<circle cx="367.10" cy="465.80" r="4.2" fill="#C59B2F" fill-opacity="0.6"/>
<circle cx="405.90" cy="452.90" r="4.2" fill="#8237C5" fill-opacity="0.6"/>
<circle cx="405.90" cy="454.00" r="4.2" fill="#8237C5" fill-opacity="0.6"/>
<circle cx="405.90" cy="456.90" r="4.2" fill="#8237C5" fill-opacity="0.6"/>
<circle cx="405.90" cy="458.00" r="4.2" fill="#8237C5" fill-opacity="0.6"/>
<circle cx="405.90" cy="460.10" r="4.2" fill="#8237C5" fill-opacity="0.6"/>
<circle cx="405.90" cy="463.40" r="4.2" fill="#8237C5" fill-opacity="0.6"/>
<circle cx="405.90" cy="466.60" r="4.2" fill="#8237C5" fill-opacity="0.6"/>
<circle cx="405.90" cy="476.20" r="4.2" fill="#8237C5" fill-opacity="0.6"/>
<circle cx="405.90" cy="488.30" r="4.2" fill="#8237C5" fill-opacity="0.6"/>
<circle cx="405.90" cy="491.50" r="4.2" fill="#8237C5" fill-opacity="0.6"/>
<circle cx="405.90" cy="493.90" r="4.2" fill="#8237C5" fill-opacity="0.6"/>
<circle cx="405.90" cy="495.50" r="4.2" fill="#8237C5" fill-opacity="0.6"/>
<circle cx="444.70" cy="465.80" r="4.2" fill="#612F82" fill-opacity="0.6"/>
<circle cx="444.70" cy="469.00" r="4.2" fill="#612F82" fill-opacity="0.6"/>
<circle cx="444.70" cy="470.00" r="4.2" fill="#612F82" fill-opacity="0.6"/>
<circle cx="444.70" cy="472.20" r="4.2" fill="#612F82" fill-opacity="0.6"/>
<circle cx="444.70" cy="475.40" r="4.2" fill="#612F82" fill-opacity="0.6"/>
<circle cx="444.70" cy="476.00" r="4.2" fill="#612F82" fill-opacity="0.6"/>
<circle cx="444.70" cy="478.60" r="4.2" fill="#612F82" fill-opacity="0.6"/>
<circle cx="444.70" cy="480.00" r="4.2" fill="#612F82" fill-opacity="0.6"/>
<circle cx="444.70" cy="481.80" r="4.2" fill="#612F82" fill-opacity="0.6"/>
<circle cx="444.70" cy="485.00" r="4.2" fill="#612F82" fill-opacity="0.6"/>
<circle cx="444.70" cy="498.70" r="4.2" fill="#612F82" fill-opacity="0.6"/>
<circle cx="444.70" cy="499.50" r="4.2" fill="#612F82" fill-opacity="0.6"/>
<path d="M289.50,429.70 L328.30,430.50 L367.10,440.10 L405.90,452.90 L444.70,469.00" fill="none" stroke="#d4d4d4" stroke-width="0.9"/>
<path d="M289.50,419.30 L328.30,427.30 L367.10,444.20 L405.90,456.90 L444.70,465.80" fill="none" stroke="#d4d4d4" stroke-width="0.9"/>
<path d="M289.50,431.00 L328.30,433.70 L367.10,436.10 L405.90,460.10 L444.70,472.20" fill="none" stroke="#d4d4d4" stroke-width="0.9"/>
<path d="M289.50,436.10 L328.30,440.10 L367.10,432.90 L405.90,454.00 L444.70,481.80" fill="none" stroke="#d4d4d4" stroke-width="0.9"/>
<path d="M289.50,443.00 L328.30,437.70 L367.10,460.20 L405.90,458.00 L444.70,478.60" fill="none" stroke="#d4d4d4" stroke-width="0.9"/>
<path d="M289.50,433.70 L328.30,439.00 L367.10,438.00 L405.90,463.40 L444.70,475.40" fill="none" stroke="#d4d4d4" stroke-width="0.9"/>
<path d="M289.50,438.50 L328.30,442.60 L367.10,451.40 L405.90,466.60 L444.70,480.00" fill="none" stroke="#d4d4d4" stroke-width="0.9"/>
<path d="M289.50,441.00 L328.30,446.60 L367.10,446.00 L405.90,476.20 L444.70,470.00" fill="none" stroke="#d4d4d4" stroke-width="0.9"/>
<path d="M289.50,453.00 L328.30,444.00 L367.10,448.20 L405.90,491.50 L444.70,476.00" fill="none" stroke="#d4d4d4" stroke-width="0.9"/>
<path d="M289.50,445.80 L328.30,449.80 L367.10,455.40 L405.90,495.50 L444.70,498.70" fill="none" stroke="#d4d4d4" stroke-width="0.9"/>
<path d="M289.50,448.20 L328.30,455.40 L367.10,463.40 L405.90,488.30 L444.70,499.50" fill="none" stroke="#d4d4d4" stroke-width="0.9"/>
<path d="M289.50,450.60 L328.30,452.20 L367.10,465.80 L405.90,493.90 L444.70,485.00" fill="none" stroke="#d4d4d4" stroke-width="0.9"/>
<line x1="279.80" y1="442.90" x2="299.20" y2="442.90" stroke="#000" stroke-width="2.1" />
<line x1="318.60" y1="444.20" x2="338.00" y2="444.20" stroke="#000" stroke-width="2.1" />
<line x1="357.40" y1="451.70" x2="376.80" y2="451.70" stroke="#000" stroke-width="2.1" />
<line x1="396.20" y1="473.80" x2="415.60" y2="473.80" stroke="#000" stroke-width="2.1" />
<line x1="435.00" y1="485.20" x2="454.40" y2="485.20" stroke="#000" stroke-width="2.1" />
<text x="289.50" y="402.90" font-size="10.8" text-anchor="middle" font-weight="normal" fill="#0d0d0d" >135693</text>
<text x="328.30" y="371.30" font-size="10.8" text-anchor="middle" font-weight="normal" fill="#0d0d0d" >ns</text>
<text x="328.30" y="387.30" font-size="10.8" text-anchor="middle" font-weight="normal" fill="#0d0d0d" >0.95x</text>
<text x="328.30" y="402.90" font-size="10.8" text-anchor="middle" font-weight="normal" fill="#0d0d0d" >124182</text>
<text x="367.10" y="371.80" font-size="10.8" text-anchor="middle" font-weight="normal" fill="#0d0d0d" >**</text>
<text x="367.10" y="387.30" font-size="10.8" text-anchor="middle" font-weight="normal" fill="#0d0d0d" >0.59x</text>
<text x="367.10" y="402.90" font-size="10.8" text-anchor="middle" font-weight="normal" fill="#0d0d0d" >81176</text>
<text x="405.90" y="371.80" font-size="10.8" text-anchor="middle" font-weight="normal" fill="#0d0d0d" >**</text>
<text x="405.90" y="387.30" font-size="10.8" text-anchor="middle" font-weight="normal" fill="#0d0d0d" >0.15x</text>
<text x="405.90" y="402.90" font-size="10.8" text-anchor="middle" font-weight="normal" fill="#0d0d0d" >22045</text>
<text x="444.70" y="371.80" font-size="10.8" text-anchor="middle" font-weight="normal" fill="#0d0d0d" >***</text>
<text x="444.70" y="387.30" font-size="10.8" text-anchor="middle" font-weight="normal" fill="#0d0d0d" >0.08x</text>
<text x="444.70" y="402.90" font-size="10.8" text-anchor="middle" font-weight="normal" fill="#0d0d0d" >11311</text>
<text x="581.65" y="345.60" font-size="13.1" text-anchor="middle" font-weight="normal" fill="#0d0d0d" >T3</text>
<line x1="480.50" y1="553.20" x2="682.80" y2="553.20" stroke="#111111" stroke-width="1.4" />
<line x1="481.10" y1="536.20" x2="682.80" y2="536.20" stroke="#bdbdbd" stroke-width="1.6" stroke-dasharray="4.8,4.6"/>
<line x1="503.80" y1="553.20" x2="503.80" y2="559.20" stroke="#111111" stroke-width="1.4" />
<text transform="translate(503.40,563.70) rotate(-45)" font-size="13" text-anchor="end" dy="0.72em" fill="#0d0d0d">WT</text>
<line x1="542.60" y1="553.20" x2="542.60" y2="559.20" stroke="#111111" stroke-width="1.4" />
<text transform="translate(542.20,563.70) rotate(-45)" font-size="13" text-anchor="end" dy="0.72em" fill="#0d0d0d">BA.5</text>
<line x1="581.40" y1="553.20" x2="581.40" y2="559.20" stroke="#111111" stroke-width="1.4" />
<text transform="translate(581.00,563.70) rotate(-45)" font-size="13" text-anchor="end" dy="0.72em" fill="#0d0d0d">XBB.1.5</text>
<line x1="620.20" y1="553.20" x2="620.20" y2="559.20" stroke="#111111" stroke-width="1.4" />
<text transform="translate(619.80,563.70) rotate(-45)" font-size="13" text-anchor="end" dy="0.72em" fill="#0d0d0d">JN.1</text>
<line x1="659.00" y1="553.20" x2="659.00" y2="559.20" stroke="#111111" stroke-width="1.4" />
<text transform="translate(658.60,563.70) rotate(-45)" font-size="13" text-anchor="end" dy="0.72em" fill="#0d0d0d">KP.3</text>
<circle cx="503.80" cy="431.90" r="4.2" fill="#CF6454" fill-opacity="0.6"/>
<circle cx="503.80" cy="436.80" r="4.2" fill="#CF6454" fill-opacity="0.6"/>
<circle cx="503.80" cy="438.00" r="4.2" fill="#CF6454" fill-opacity="0.6"/>
<circle cx="503.80" cy="440.00" r="4.2" fill="#CF6454" fill-opacity="0.6"/>
<circle cx="503.80" cy="442.40" r="4.2" fill="#CF6454" fill-opacity="0.6"/>
<circle cx="503.80" cy="444.80" r="4.2" fill="#CF6454" fill-opacity="0.6"/>
<circle cx="503.80" cy="449.60" r="4.2" fill="#CF6454" fill-opacity="0.6"/>
<circle cx="503.80" cy="453.60" r="4.2" fill="#CF6454" fill-opacity="0.6"/>
<circle cx="503.80" cy="456.80" r="4.2" fill="#CF6454" fill-opacity="0.6"/>
<circle cx="503.80" cy="460.00" r="4.2" fill="#CF6454" fill-opacity="0.6"/>
<circle cx="503.80" cy="464.10" r="4.2" fill="#CF6454" fill-opacity="0.6"/>
<circle cx="503.80" cy="482.50" r="4.2" fill="#CF6454" fill-opacity="0.6"/>
<circle cx="542.60" cy="423.90" r="4.2" fill="#5061AC" fill-opacity="0.6"/>
<circle cx="542.60" cy="429.50" r="4.2" fill="#5061AC" fill-opacity="0.6"/>
<circle cx="542.60" cy="433.50" r="4.2" fill="#5061AC" fill-opacity="0.6"/>
<circle cx="542.60" cy="436.80" r="4.2" fill="#5061AC" fill-opacity="0.6"/>
<circle cx="542.60" cy="438.00" r="4.2" fill="#5061AC" fill-opacity="0.6"/>
<circle cx="542.60" cy="440.00" r="4.2" fill="#5061AC" fill-opacity="0.6"/>
<circle cx="542.60" cy="443.20" r="4.2" fill="#5061AC" fill-opacity="0.6"/>
<circle cx="542.60" cy="446.40" r="4.2" fill="#5061AC" fill-opacity="0.6"/>
<circle cx="542.60" cy="449.60" r="4.2" fill="#5061AC" fill-opacity="0.6"/>
<circle cx="542.60" cy="452.80" r="4.2" fill="#5061AC" fill-opacity="0.6"/>
<circle cx="542.60" cy="456.00" r="4.2" fill="#5061AC" fill-opacity="0.6"/>
<circle cx="542.60" cy="460.00" r="4.2" fill="#5061AC" fill-opacity="0.6"/>
<circle cx="581.40" cy="433.50" r="4.2" fill="#C59B2F" fill-opacity="0.6"/>
<circle cx="581.40" cy="435.00" r="4.2" fill="#C59B2F" fill-opacity="0.6"/>
<circle cx="581.40" cy="436.00" r="4.2" fill="#C59B2F" fill-opacity="0.6"/>
<circle cx="581.40" cy="438.40" r="4.2" fill="#C59B2F" fill-opacity="0.6"/>
<circle cx="581.40" cy="440.80" r="4.2" fill="#C59B2F" fill-opacity="0.6"/>
<circle cx="581.40" cy="442.00" r="4.2" fill="#C59B2F" fill-opacity="0.6"/>
<circle cx="581.40" cy="443.20" r="4.2" fill="#C59B2F" fill-opacity="0.6"/>
<circle cx="581.40" cy="445.60" r="4.2" fill="#C59B2F" fill-opacity="0.6"/>
<circle cx="581.40" cy="450.40" r="4.2" fill="#C59B2F" fill-opacity="0.6"/>
<circle cx="581.40" cy="453.60" r="4.2" fill="#C59B2F" fill-opacity="0.6"/>
<circle cx="581.40" cy="456.80" r="4.2" fill="#C59B2F" fill-opacity="0.6"/>
<circle cx="581.40" cy="459.20" r="4.2" fill="#C59B2F" fill-opacity="0.6"/>
<circle cx="620.20" cy="444.90" r="4.2" fill="#8237C5" fill-opacity="0.6"/>
<circle cx="620.20" cy="452.90" r="4.2" fill="#8237C5" fill-opacity="0.6"/>
<circle cx="620.20" cy="457.70" r="4.2" fill="#8237C5" fill-opacity="0.6"/>
<circle cx="620.20" cy="461.00" r="4.2" fill="#8237C5" fill-opacity="0.6"/>
<circle cx="620.20" cy="464.20" r="4.2" fill="#8237C5" fill-opacity="0.6"/>
<circle cx="620.20" cy="467.40" r="4.2" fill="#8237C5" fill-opacity="0.6"/>
<circle cx="620.20" cy="469.00" r="4.2" fill="#8237C5" fill-opacity="0.6"/>
<circle cx="620.20" cy="471.40" r="4.2" fill="#8237C5" fill-opacity="0.6"/>
<circle cx="620.20" cy="475.40" r="4.2" fill="#8237C5" fill-opacity="0.6"/>
<circle cx="620.20" cy="478.60" r="4.2" fill="#8237C5" fill-opacity="0.6"/>
<circle cx="620.20" cy="481.80" r="4.2" fill="#8237C5" fill-opacity="0.6"/>
<circle cx="620.20" cy="483.40" r="4.2" fill="#8237C5" fill-opacity="0.6"/>
<circle cx="659.00" cy="465.00" r="4.2" fill="#612F82" fill-opacity="0.6"/>
<circle cx="659.00" cy="468.20" r="4.2" fill="#612F82" fill-opacity="0.6"/>
<circle cx="659.00" cy="470.00" r="4.2" fill="#612F82" fill-opacity="0.6"/>
<circle cx="659.00" cy="471.40" r="4.2" fill="#612F82" fill-opacity="0.6"/>
<circle cx="659.00" cy="474.60" r="4.2" fill="#612F82" fill-opacity="0.6"/>
<circle cx="659.00" cy="476.00" r="4.2" fill="#612F82" fill-opacity="0.6"/>
<circle cx="659.00" cy="477.80" r="4.2" fill="#612F82" fill-opacity="0.6"/>
<circle cx="659.00" cy="479.00" r="4.2" fill="#612F82" fill-opacity="0.6"/>
<circle cx="659.00" cy="481.00" r="4.2" fill="#612F82" fill-opacity="0.6"/>
<circle cx="659.00" cy="485.80" r="4.2" fill="#612F82" fill-opacity="0.6"/>
<circle cx="659.00" cy="491.50" r="4.2" fill="#612F82" fill-opacity="0.6"/>
<circle cx="659.00" cy="501.90" r="4.2" fill="#612F82" fill-opacity="0.6"/>
<path d="M503.80,438.00 L542.60,433.50 L581.40,433.50 L620.20,444.90 L659.00,468.20" fill="none" stroke="#d4d4d4" stroke-width="0.9"/>
<path d="M503.80,431.90 L542.60,423.90 L581.40,435.00 L620.20,452.90 L659.00,471.40" fill="none" stroke="#d4d4d4" stroke-width="0.9"/>
<path d="M503.80,449.60 L542.60,436.80 L581.40,436.00 L620.20,457.70 L659.00,465.00" fill="none" stroke="#d4d4d4" stroke-width="0.9"/>
<path d="M503.80,442.40 L542.60,429.50 L581.40,438.40 L620.20,461.00 L659.00,474.60" fill="none" stroke="#d4d4d4" stroke-width="0.9"/>
<path d="M503.80,440.00 L542.60,440.00 L581.40,442.00 L620.20,471.40 L659.00,470.00" fill="none" stroke="#d4d4d4" stroke-width="0.9"/>
<path d="M503.80,436.80 L542.60,438.00 L581.40,450.40 L620.20,469.00 L659.00,477.80" fill="none" stroke="#d4d4d4" stroke-width="0.9"/>
<path d="M503.80,444.80 L542.60,443.20 L581.40,440.80 L620.20,464.20 L659.00,481.00" fill="none" stroke="#d4d4d4" stroke-width="0.9"/>
<path d="M503.80,453.60 L542.60,449.60 L581.40,443.20 L620.20,467.40 L659.00,476.00" fill="none" stroke="#d4d4d4" stroke-width="0.9"/>
<path d="M503.80,482.50 L542.60,446.40 L581.40,445.60 L620.20,481.80 L659.00,479.00" fill="none" stroke="#d4d4d4" stroke-width="0.9"/>
<path d="M503.80,456.80 L542.60,456.00 L581.40,456.80 L620.20,475.40 L659.00,491.50" fill="none" stroke="#d4d4d4" stroke-width="0.9"/>
<path d="M503.80,460.00 L542.60,452.80 L581.40,453.60 L620.20,478.60 L659.00,485.80" fill="none" stroke="#d4d4d4" stroke-width="0.9"/>
<path d="M503.80,464.10 L542.60,460.00 L581.40,459.20 L620.20,483.40 L659.00,501.90" fill="none" stroke="#d4d4d4" stroke-width="0.9"/>
<line x1="494.10" y1="450.90" x2="513.50" y2="450.90" stroke="#000" stroke-width="2.1" />
<line x1="532.90" y1="442.90" x2="552.30" y2="442.90" stroke="#000" stroke-width="2.1" />
<line x1="571.70" y1="445.90" x2="591.10" y2="445.90" stroke="#000" stroke-width="2.1" />
<line x1="610.50" y1="469.00" x2="629.90" y2="469.00" stroke="#000" stroke-width="2.1" />
<line x1="649.30" y1="481.00" x2="668.70" y2="481.00" stroke="#000" stroke-width="2.1" />
<text x="503.80" y="371.80" font-size="10.8" text-anchor="middle" font-weight="normal" fill="#0d0d0d" >***</text>
<text x="503.80" y="387.30" font-size="10.8" text-anchor="middle" font-weight="normal" fill="#0d0d0d" >0.63x</text>
<text x="503.80" y="402.90" font-size="10.8" text-anchor="middle" font-weight="normal" fill="#0d0d0d" >84931</text>
<text x="542.60" y="402.90" font-size="10.8" text-anchor="middle" font-weight="normal" fill="#0d0d0d" >134334</text>
<text x="581.40" y="371.80" font-size="10.8" text-anchor="middle" font-weight="normal" fill="#0d0d0d" >*</text>
<text x="581.40" y="387.30" font-size="10.8" text-anchor="middle" font-weight="normal" fill="#0d0d0d" >0.81x</text>
<text x="581.40" y="402.90" font-size="10.8" text-anchor="middle" font-weight="normal" fill="#0d0d0d" >114469</text>
<text x="620.20" y="371.80" font-size="10.8" text-anchor="middle" font-weight="normal" fill="#0d0d0d" >***</text>
<text x="620.20" y="387.30" font-size="10.8" text-anchor="middle" font-weight="normal" fill="#0d0d0d" >0.15x</text>
<text x="620.20" y="402.90" font-size="10.8" text-anchor="middle" font-weight="normal" fill="#0d0d0d" >29179</text>
<text x="659.00" y="371.80" font-size="10.8" text-anchor="middle" font-weight="normal" fill="#0d0d0d" >***</text>
<text x="659.00" y="387.30" font-size="10.8" text-anchor="middle" font-weight="normal" fill="#0d0d0d" >0.1x</text>
<text x="659.00" y="402.90" font-size="10.8" text-anchor="middle" font-weight="normal" fill="#0d0d0d" >14293</text>
<text x="1.60" y="638.10" font-size="16" text-anchor="start" font-weight="bold" fill="#000" >c</text>
<text x="383.50" y="639.90" font-size="12.9" text-anchor="middle" font-weight="bold" fill="#111" >Neutralization Potency by Variant (Single infection)</text>
<line x1="61.30" y1="670.80" x2="61.30" y2="901.40" stroke="#111111" stroke-width="1.4" />
<line x1="55.10" y1="676.90" x2="61.30" y2="676.90" stroke="#111111" stroke-width="1.4" />
<text x="51.10" y="682.80" font-size="13.1" text-anchor="end" fill="#0d0d0d">10<tspan font-size="8.8" dy="-5.4">1</tspan></text>
<line x1="55.10" y1="719.66" x2="61.30" y2="719.66" stroke="#111111" stroke-width="1.4" />
<text x="51.10" y="725.56" font-size="13.1" text-anchor="end" fill="#0d0d0d">10<tspan font-size="8.8" dy="-5.4">0</tspan></text>
<line x1="55.10" y1="762.42" x2="61.30" y2="762.42" stroke="#111111" stroke-width="1.4" />
<text x="51.10" y="768.32" font-size="13.1" text-anchor="end" fill="#0d0d0d">10<tspan font-size="8.8" dy="-5.4">−1</tspan></text>
<line x1="55.10" y1="805.18" x2="61.30" y2="805.18" stroke="#111111" stroke-width="1.4" />
<text x="51.10" y="811.08" font-size="13.1" text-anchor="end" fill="#0d0d0d">10<tspan font-size="8.8" dy="-5.4">−2</tspan></text>
<line x1="55.10" y1="847.94" x2="61.30" y2="847.94" stroke="#111111" stroke-width="1.4" />
<text x="51.10" y="853.84" font-size="13.1" text-anchor="end" fill="#0d0d0d">10<tspan font-size="8.8" dy="-5.4">−3</tspan></text>
<line x1="55.10" y1="890.70" x2="61.30" y2="890.70" stroke="#111111" stroke-width="1.4" />
<text x="51.10" y="896.60" font-size="13.1" text-anchor="end" fill="#0d0d0d">10<tspan font-size="8.8" dy="-5.4">−4</tspan></text>
<text transform="translate(14.8,785.50) rotate(-90)" font-size="13.1" text-anchor="middle" fill="#0d0d0d">pVNT<tspan font-size="9" dy="2.5">50</tspan><tspan dy="-2.5"> Titer/ RBD IgG Titer</tspan></text>
<text x="118.30" y="665.60" font-size="13.1" text-anchor="middle" font-weight="normal" fill="#0d0d0d" >WT</text>
<line x1="61.30" y1="900.90" x2="175.30" y2="900.90" stroke="#111111" stroke-width="1.4" />
<line x1="82.50" y1="900.90" x2="82.50" y2="906.90" stroke="#111111" stroke-width="1.4" />
<text x="82.50" y="921.40" font-size="13.1" text-anchor="middle" font-weight="normal" fill="#0d0d0d" >T1</text>
<line x1="118.50" y1="900.90" x2="118.50" y2="906.90" stroke="#111111" stroke-width="1.4" />
<text x="118.50" y="921.40" font-size="13.1" text-anchor="middle" font-weight="normal" fill="#0d0d0d" >T2</text>
<line x1="154.50" y1="900.90" x2="154.50" y2="906.90" stroke="#111111" stroke-width="1.4" />
<text x="154.50" y="921.40" font-size="13.1" text-anchor="middle" font-weight="normal" fill="#0d0d0d" >T3</text>
<circle cx="82.50" cy="756.70" r="4.2" fill="#CF6454" fill-opacity="0.6"/>
<circle cx="82.50" cy="763.90" r="4.2" fill="#CF6454" fill-opacity="0.6"/>
<circle cx="82.50" cy="765.00" r="4.2" fill="#CF6454" fill-opacity="0.6"/>
<circle cx="82.50" cy="766.30" r="4.2" fill="#CF6454" fill-opacity="0.6"/>
<circle cx="82.50" cy="767.00" r="4.2" fill="#CF6454" fill-opacity="0.6"/>
<circle cx="82.50" cy="768.70" r="4.2" fill="#CF6454" fill-opacity="0.6"/>
<circle cx="82.50" cy="783.20" r="4.2" fill="#CF6454" fill-opacity="0.6"/>
<circle cx="82.50" cy="785.00" r="4.2" fill="#CF6454" fill-opacity="0.6"/>
<circle cx="82.50" cy="786.40" r="4.2" fill="#CF6454" fill-opacity="0.6"/>
<circle cx="82.50" cy="804.40" r="4.2" fill="#CF6454" fill-opacity="0.6"/>
<circle cx="118.50" cy="746.60" r="4.2" fill="#CF6454" fill-opacity="0.6"/>
<circle cx="118.50" cy="755.90" r="4.2" fill="#CF6454" fill-opacity="0.6"/>
<circle cx="118.50" cy="771.10" r="4.2" fill="#CF6454" fill-opacity="0.6"/>
<circle cx="118.50" cy="772.70" r="4.2" fill="#CF6454" fill-opacity="0.6"/>
<circle cx="118.50" cy="781.60" r="4.2" fill="#CF6454" fill-opacity="0.6"/>
<circle cx="154.50" cy="742.20" r="4.2" fill="#CF6454" fill-opacity="0.6"/>
<circle cx="154.50" cy="750.30" r="4.2" fill="#CF6454" fill-opacity="0.6"/>
<circle cx="154.50" cy="751.90" r="4.2" fill="#CF6454" fill-opacity="0.6"/>
<circle cx="154.50" cy="752.00" r="4.2" fill="#CF6454" fill-opacity="0.6"/>
<circle cx="154.50" cy="761.50" r="4.2" fill="#CF6454" fill-opacity="0.6"/>
<circle cx="154.50" cy="764.70" r="4.2" fill="#CF6454" fill-opacity="0.6"/>
<circle cx="154.50" cy="767.10" r="4.2" fill="#CF6454" fill-opacity="0.6"/>
<circle cx="154.50" cy="775.10" r="4.2" fill="#CF6454" fill-opacity="0.6"/>
<circle cx="154.50" cy="794.70" r="4.2" fill="#CF6454" fill-opacity="0.6"/>
<circle cx="154.50" cy="801.60" r="4.2" fill="#CF6454" fill-opacity="0.6"/>
<path d="M82.50,756.70 L118.50,746.60 L154.50,742.20" fill="none" stroke="#d4d4d4" stroke-width="0.9"/>
<path d="M82.50,763.90 L118.50,755.90 L154.50,764.70" fill="none" stroke="#d4d4d4" stroke-width="0.9"/>
<path d="M82.50,767.00 L154.50,761.50" fill="none" stroke="#d4d4d4" stroke-width="0.9"/>
<path d="M82.50,765.00 L154.50,750.30" fill="none" stroke="#d4d4d4" stroke-width="0.9"/>
<path d="M82.50,766.30 L154.50,775.10" fill="none" stroke="#d4d4d4" stroke-width="0.9"/>
<path d="M82.50,785.00 L154.50,751.90" fill="none" stroke="#d4d4d4" stroke-width="0.9"/>
<path d="M82.50,768.70 L118.50,771.10 L154.50,752.00" fill="none" stroke="#d4d4d4" stroke-width="0.9"/>
<path d="M82.50,804.40 L118.50,772.70 L154.50,801.60" fill="none" stroke="#d4d4d4" stroke-width="0.9"/>
<path d="M82.50,783.20 L154.50,767.10" fill="none" stroke="#d4d4d4" stroke-width="0.9"/>
<path d="M82.50,786.40 L118.50,781.60 L154.50,794.70" fill="none" stroke="#d4d4d4" stroke-width="0.9"/>
<line x1="72.80" y1="775.50" x2="92.20" y2="775.50" stroke="#000" stroke-width="2.1" />
<line x1="108.80" y1="767.80" x2="128.20" y2="767.80" stroke="#000" stroke-width="2.1" />
<line x1="144.80" y1="768.70" x2="164.20" y2="768.70" stroke="#000" stroke-width="2.1" />
<text x="82.50" y="712.60" font-size="10.6" text-anchor="middle" font-weight="normal" fill="#0d0d0d" >0.067</text>
<text x="118.50" y="685.00" font-size="10.6" text-anchor="middle" font-weight="normal" fill="#0d0d0d" >ns</text>
<text x="118.50" y="698.40" font-size="10.6" text-anchor="middle" font-weight="normal" fill="#0d0d0d" >1.57x</text>
<text x="118.50" y="712.60" font-size="10.6" text-anchor="middle" font-weight="normal" fill="#0d0d0d" >0.106</text>
<text x="154.50" y="685.00" font-size="10.6" text-anchor="middle" font-weight="normal" fill="#0d0d0d" >ns</text>
<text x="154.50" y="698.40" font-size="10.6" text-anchor="middle" font-weight="normal" fill="#0d0d0d" >1.75x</text>
<text x="154.50" y="712.60" font-size="10.6" text-anchor="middle" font-weight="normal" fill="#0d0d0d" >0.118</text>
<text x="245.10" y="665.60" font-size="13.1" text-anchor="middle" font-weight="normal" fill="#0d0d0d" >BA.5</text>
<line x1="188.10" y1="900.90" x2="302.10" y2="900.90" stroke="#111111" stroke-width="1.4" />
<line x1="209.30" y1="900.90" x2="209.30" y2="906.90" stroke="#111111" stroke-width="1.4" />
<text x="209.30" y="921.40" font-size="13.1" text-anchor="middle" font-weight="normal" fill="#0d0d0d" >T1</text>
<line x1="245.30" y1="900.90" x2="245.30" y2="906.90" stroke="#111111" stroke-width="1.4" />
<text x="245.30" y="921.40" font-size="13.1" text-anchor="middle" font-weight="normal" fill="#0d0d0d" >T2</text>
<line x1="281.30" y1="900.90" x2="281.30" y2="906.90" stroke="#111111" stroke-width="1.4" />
<text x="281.30" y="921.40" font-size="13.1" text-anchor="middle" font-weight="normal" fill="#0d0d0d" >T3</text>
<circle cx="209.30" cy="756.10" r="4.2" fill="#5061AC" fill-opacity="0.6"/>
<circle cx="209.30" cy="772.90" r="4.2" fill="#5061AC" fill-opacity="0.6"/>
<circle cx="209.30" cy="778.50" r="4.2" fill="#5061AC" fill-opacity="0.6"/>
<circle cx="209.30" cy="784.20" r="4.2" fill="#5061AC" fill-opacity="0.6"/>
<circle cx="209.30" cy="789.00" r="4.2" fill="#5061AC" fill-opacity="0.6"/>
<circle cx="209.30" cy="790.00" r="4.2" fill="#5061AC" fill-opacity="0.6"/>
<circle cx="209.30" cy="794.60" r="4.2" fill="#5061AC" fill-opacity="0.6"/>
<circle cx="209.30" cy="804.20" r="4.2" fill="#5061AC" fill-opacity="0.6"/>
<circle cx="209.30" cy="809.90" r="4.2" fill="#5061AC" fill-opacity="0.6"/>
<circle cx="209.30" cy="822.70" r="4.2" fill="#5061AC" fill-opacity="0.6"/>
<circle cx="245.30" cy="770.50" r="4.2" fill="#5061AC" fill-opacity="0.6"/>
<circle cx="245.30" cy="776.90" r="4.2" fill="#5061AC" fill-opacity="0.6"/>
<circle cx="245.30" cy="791.40" r="4.2" fill="#5061AC" fill-opacity="0.6"/>
<circle cx="245.30" cy="793.80" r="4.2" fill="#5061AC" fill-opacity="0.6"/>
<circle cx="245.30" cy="812.30" r="4.2" fill="#5061AC" fill-opacity="0.6"/>
<circle cx="281.30" cy="772.10" r="4.2" fill="#5061AC" fill-opacity="0.6"/>
<circle cx="281.30" cy="774.50" r="4.2" fill="#5061AC" fill-opacity="0.6"/>
<circle cx="281.30" cy="779.30" r="4.2" fill="#5061AC" fill-opacity="0.6"/>
<circle cx="281.30" cy="785.80" r="4.2" fill="#5061AC" fill-opacity="0.6"/>
<circle cx="281.30" cy="788.00" r="4.2" fill="#5061AC" fill-opacity="0.6"/>
<circle cx="281.30" cy="793.00" r="4.2" fill="#5061AC" fill-opacity="0.6"/>
<circle cx="281.30" cy="797.80" r="4.2" fill="#5061AC" fill-opacity="0.6"/>
<circle cx="281.30" cy="803.40" r="4.2" fill="#5061AC" fill-opacity="0.6"/>
<circle cx="281.30" cy="805.00" r="4.2" fill="#5061AC" fill-opacity="0.6"/>
<circle cx="281.30" cy="832.30" r="4.2" fill="#5061AC" fill-opacity="0.6"/>
<path d="M209.30,756.10 L245.30,770.50 L281.30,774.50" fill="none" stroke="#d4d4d4" stroke-width="0.9"/>
<path d="M209.30,772.90 L245.30,776.90 L281.30,772.10" fill="none" stroke="#d4d4d4" stroke-width="0.9"/>
<path d="M209.30,778.50 L245.30,791.40 L281.30,785.80" fill="none" stroke="#d4d4d4" stroke-width="0.9"/>
<path d="M209.30,784.20 L281.30,788.00" fill="none" stroke="#d4d4d4" stroke-width="0.9"/>
<path d="M209.30,790.00 L245.30,793.80 L281.30,793.00" fill="none" stroke="#d4d4d4" stroke-width="0.9"/>
<path d="M209.30,789.00 L281.30,779.30" fill="none" stroke="#d4d4d4" stroke-width="0.9"/>
<path d="M209.30,804.20 L281.30,803.40" fill="none" stroke="#d4d4d4" stroke-width="0.9"/>
<path d="M209.30,794.60 L281.30,797.80" fill="none" stroke="#d4d4d4" stroke-width="0.9"/>
<path d="M209.30,809.90 L245.30,812.30 L281.30,805.00" fill="none" stroke="#d4d4d4" stroke-width="0.9"/>
<path d="M209.30,822.70 L281.30,832.30" fill="none" stroke="#d4d4d4" stroke-width="0.9"/>
<line x1="199.60" y1="792.70" x2="219.00" y2="792.70" stroke="#000" stroke-width="2.1" />
<line x1="235.60" y1="791.10" x2="255.00" y2="791.10" stroke="#000" stroke-width="2.1" />
<line x1="271.60" y1="795.70" x2="291.00" y2="795.70" stroke="#000" stroke-width="2.1" />
<text x="209.30" y="712.60" font-size="10.6" text-anchor="middle" font-weight="normal" fill="#0d0d0d" >0.035</text>
<text x="245.30" y="685.00" font-size="10.6" text-anchor="middle" font-weight="normal" fill="#0d0d0d" >ns</text>
<text x="245.30" y="698.40" font-size="10.6" text-anchor="middle" font-weight="normal" fill="#0d0d0d" >0.89x</text>
<text x="245.30" y="712.60" font-size="10.6" text-anchor="middle" font-weight="normal" fill="#0d0d0d" >0.031</text>
<text x="281.30" y="685.00" font-size="10.6" text-anchor="middle" font-weight="normal" fill="#0d0d0d" >ns</text>
<text x="281.30" y="698.40" font-size="10.6" text-anchor="middle" font-weight="normal" fill="#0d0d0d" >0.74x</text>
<text x="281.30" y="712.60" font-size="10.6" text-anchor="middle" font-weight="normal" fill="#0d0d0d" >0.026</text>
<text x="371.90" y="665.60" font-size="13.1" text-anchor="middle" font-weight="normal" fill="#0d0d0d" >XBB.1.5</text>
<line x1="314.90" y1="900.90" x2="428.90" y2="900.90" stroke="#111111" stroke-width="1.4" />
<line x1="336.10" y1="900.90" x2="336.10" y2="906.90" stroke="#111111" stroke-width="1.4" />
<text x="336.10" y="921.40" font-size="13.1" text-anchor="middle" font-weight="normal" fill="#0d0d0d" >T1</text>
<line x1="372.10" y1="900.90" x2="372.10" y2="906.90" stroke="#111111" stroke-width="1.4" />
<text x="372.10" y="921.40" font-size="13.1" text-anchor="middle" font-weight="normal" fill="#0d0d0d" >T2</text>
<line x1="408.10" y1="900.90" x2="408.10" y2="906.90" stroke="#111111" stroke-width="1.4" />
<text x="408.10" y="921.40" font-size="13.1" text-anchor="middle" font-weight="normal" fill="#0d0d0d" >T3</text>
<circle cx="336.10" cy="820.70" r="4.2" fill="#C59B2F" fill-opacity="0.6"/>
<circle cx="336.10" cy="827.80" r="4.2" fill="#C59B2F" fill-opacity="0.6"/>
<circle cx="336.10" cy="829.50" r="4.2" fill="#C59B2F" fill-opacity="0.6"/>
<circle cx="336.10" cy="830.90" r="4.2" fill="#C59B2F" fill-opacity="0.6"/>
<circle cx="336.10" cy="839.50" r="4.2" fill="#C59B2F" fill-opacity="0.6"/>
<circle cx="336.10" cy="841.50" r="4.2" fill="#C59B2F" fill-opacity="0.6"/>
<circle cx="336.10" cy="843.00" r="4.2" fill="#C59B2F" fill-opacity="0.6"/>
<circle cx="336.10" cy="845.20" r="4.2" fill="#C59B2F" fill-opacity="0.6"/>
<circle cx="336.10" cy="847.50" r="4.2" fill="#C59B2F" fill-opacity="0.6"/>
<circle cx="336.10" cy="849.30" r="4.2" fill="#C59B2F" fill-opacity="0.6"/>
<circle cx="372.10" cy="823.70" r="4.2" fill="#C59B2F" fill-opacity="0.6"/>
<circle cx="372.10" cy="827.00" r="4.2" fill="#C59B2F" fill-opacity="0.6"/>
<circle cx="372.10" cy="830.10" r="4.2" fill="#C59B2F" fill-opacity="0.6"/>
<circle cx="372.10" cy="833.40" r="4.2" fill="#C59B2F" fill-opacity="0.6"/>
<circle cx="372.10" cy="844.60" r="4.2" fill="#C59B2F" fill-opacity="0.6"/>
<circle cx="408.10" cy="806.90" r="4.2" fill="#C59B2F" fill-opacity="0.6"/>
<circle cx="408.10" cy="810.90" r="4.2" fill="#C59B2F" fill-opacity="0.6"/>
<circle cx="408.10" cy="814.00" r="4.2" fill="#C59B2F" fill-opacity="0.6"/>
<circle cx="408.10" cy="818.10" r="4.2" fill="#C59B2F" fill-opacity="0.6"/>
<circle cx="408.10" cy="821.30" r="4.2" fill="#C59B2F" fill-opacity="0.6"/>
<circle cx="408.10" cy="826.00" r="4.2" fill="#C59B2F" fill-opacity="0.6"/>
<circle cx="408.10" cy="828.50" r="4.2" fill="#C59B2F" fill-opacity="0.6"/>
<circle cx="408.10" cy="831.80" r="4.2" fill="#C59B2F" fill-opacity="0.6"/>
<circle cx="408.10" cy="834.20" r="4.2" fill="#C59B2F" fill-opacity="0.6"/>
<circle cx="408.10" cy="849.40" r="4.2" fill="#C59B2F" fill-opacity="0.6"/>
<path d="M336.10,827.80 L408.10,810.90" fill="none" stroke="#d4d4d4" stroke-width="0.9"/>
<path d="M336.10,820.70 L372.10,823.70 L408.10,806.90" fill="none" stroke="#d4d4d4" stroke-width="0.9"/>
<path d="M336.10,845.20 L408.10,818.10" fill="none" stroke="#d4d4d4" stroke-width="0.9"/>
<path d="M336.10,839.50 L408.10,831.80" fill="none" stroke="#d4d4d4" stroke-width="0.9"/>
<path d="M336.10,841.50 L408.10,814.00" fill="none" stroke="#d4d4d4" stroke-width="0.9"/>
<path d="M336.10,843.00 L372.10,827.00 L408.10,821.30" fill="none" stroke="#d4d4d4" stroke-width="0.9"/>
<path d="M336.10,830.90 L408.10,834.20" fill="none" stroke="#d4d4d4" stroke-width="0.9"/>
<path d="M336.10,847.50 L372.10,830.10 L408.10,828.50" fill="none" stroke="#d4d4d4" stroke-width="0.9"/>
<path d="M336.10,829.50 L372.10,833.40 L408.10,826.00" fill="none" stroke="#d4d4d4" stroke-width="0.9"/>
<path d="M336.10,849.30 L372.10,844.60 L408.10,849.40" fill="none" stroke="#d4d4d4" stroke-width="0.9"/>
<line x1="326.40" y1="842.00" x2="345.80" y2="842.00" stroke="#000" stroke-width="2.1" />
<line x1="362.40" y1="836.70" x2="381.80" y2="836.70" stroke="#000" stroke-width="2.1" />
<line x1="398.40" y1="828.70" x2="417.80" y2="828.70" stroke="#000" stroke-width="2.1" />
<text x="336.10" y="712.60" font-size="10.6" text-anchor="middle" font-weight="normal" fill="#0d0d0d" >0.002</text>
<text x="372.10" y="685.00" font-size="10.6" text-anchor="middle" font-weight="normal" fill="#0d0d0d" >ns</text>
<text x="372.10" y="698.40" font-size="10.6" text-anchor="middle" font-weight="normal" fill="#0d0d0d" >1.26x</text>
<text x="372.10" y="712.60" font-size="10.6" text-anchor="middle" font-weight="normal" fill="#0d0d0d" >0.002</text>
<text x="408.10" y="687.60" font-size="10.6" text-anchor="middle" font-weight="normal" fill="#0d0d0d" >*</text>
<text x="408.10" y="698.40" font-size="10.6" text-anchor="middle" font-weight="normal" fill="#0d0d0d" >2.17x</text>
<text x="408.10" y="712.60" font-size="10.6" text-anchor="middle" font-weight="normal" fill="#0d0d0d" >0.004</text>
<text x="498.70" y="665.60" font-size="13.1" text-anchor="middle" font-weight="normal" fill="#0d0d0d" >JN.1</text>
<line x1="441.70" y1="900.90" x2="555.70" y2="900.90" stroke="#111111" stroke-width="1.4" />
<line x1="462.90" y1="900.90" x2="462.90" y2="906.90" stroke="#111111" stroke-width="1.4" />
<text x="462.90" y="921.40" font-size="13.1" text-anchor="middle" font-weight="normal" fill="#0d0d0d" >T1</text>
<line x1="498.90" y1="900.90" x2="498.90" y2="906.90" stroke="#111111" stroke-width="1.4" />
<text x="498.90" y="921.40" font-size="13.1" text-anchor="middle" font-weight="normal" fill="#0d0d0d" >T2</text>
<line x1="534.90" y1="900.90" x2="534.90" y2="906.90" stroke="#111111" stroke-width="1.4" />
<text x="534.90" y="921.40" font-size="13.1" text-anchor="middle" font-weight="normal" fill="#0d0d0d" >T3</text>
<circle cx="462.90" cy="794.00" r="4.2" fill="#8237C5" fill-opacity="0.6"/>
<circle cx="462.90" cy="809.80" r="4.2" fill="#8237C5" fill-opacity="0.6"/>
<circle cx="462.90" cy="815.40" r="4.2" fill="#8237C5" fill-opacity="0.6"/>
<circle cx="462.90" cy="822.60" r="4.2" fill="#8237C5" fill-opacity="0.6"/>
<circle cx="462.90" cy="830.70" r="4.2" fill="#8237C5" fill-opacity="0.6"/>
<circle cx="462.90" cy="832.30" r="4.2" fill="#8237C5" fill-opacity="0.6"/>
<circle cx="462.90" cy="846.70" r="4.2" fill="#8237C5" fill-opacity="0.6"/>
<circle cx="462.90" cy="847.30" r="4.2" fill="#8237C5" fill-opacity="0.6"/>
<circle cx="462.90" cy="848.30" r="4.2" fill="#8237C5" fill-opacity="0.6"/>
<circle cx="462.90" cy="850.50" r="4.2" fill="#8237C5" fill-opacity="0.6"/>
<circle cx="498.90" cy="798.50" r="4.2" fill="#8237C5" fill-opacity="0.6"/>
<circle cx="498.90" cy="799.50" r="4.2" fill="#8237C5" fill-opacity="0.6"/>
<circle cx="498.90" cy="801.00" r="4.2" fill="#8237C5" fill-opacity="0.6"/>
<circle cx="498.90" cy="802.00" r="4.2" fill="#8237C5" fill-opacity="0.6"/>
<circle cx="498.90" cy="847.50" r="4.2" fill="#8237C5" fill-opacity="0.6"/>
<circle cx="534.90" cy="779.60" r="4.2" fill="#8237C5" fill-opacity="0.6"/>
<circle cx="534.90" cy="792.10" r="4.2" fill="#8237C5" fill-opacity="0.6"/>
<circle cx="534.90" cy="805.80" r="4.2" fill="#8237C5" fill-opacity="0.6"/>
<circle cx="534.90" cy="813.00" r="4.2" fill="#8237C5" fill-opacity="0.6"/>
<circle cx="534.90" cy="817.80" r="4.2" fill="#8237C5" fill-opacity="0.6"/>
<circle cx="534.90" cy="824.20" r="4.2" fill="#8237C5" fill-opacity="0.6"/>
<circle cx="534.90" cy="826.00" r="4.2" fill="#8237C5" fill-opacity="0.6"/>
<circle cx="534.90" cy="827.40" r="4.2" fill="#8237C5" fill-opacity="0.6"/>
<circle cx="534.90" cy="830.00" r="4.2" fill="#8237C5" fill-opacity="0.6"/>
<circle cx="534.90" cy="836.90" r="4.2" fill="#8237C5" fill-opacity="0.6"/>
<path d="M462.90,794.00 L498.90,798.50 L534.90,805.80" fill="none" stroke="#d4d4d4" stroke-width="0.9"/>
<path d="M462.90,830.70 L534.90,792.10" fill="none" stroke="#d4d4d4" stroke-width="0.9"/>
<path d="M462.90,815.40 L498.90,799.50 L534.90,779.60" fill="none" stroke="#d4d4d4" stroke-width="0.9"/>
<path d="M462.90,809.80 L498.90,801.00 L534.90,813.00" fill="none" stroke="#d4d4d4" stroke-width="0.9"/>
<path d="M462.90,822.60 L498.90,802.00 L534.90,824.20" fill="none" stroke="#d4d4d4" stroke-width="0.9"/>
<path d="M462.90,832.30 L534.90,827.40" fill="none" stroke="#d4d4d4" stroke-width="0.9"/>
<path d="M462.90,847.30 L534.90,817.80" fill="none" stroke="#d4d4d4" stroke-width="0.9"/>
<path d="M462.90,850.50 L534.90,826.00" fill="none" stroke="#d4d4d4" stroke-width="0.9"/>
<path d="M462.90,846.70 L534.90,836.90" fill="none" stroke="#d4d4d4" stroke-width="0.9"/>
<path d="M462.90,848.30 L498.90,847.50 L534.90,830.00" fill="none" stroke="#d4d4d4" stroke-width="0.9"/>
<line x1="453.20" y1="827.40" x2="472.60" y2="827.40" stroke="#000" stroke-width="2.1" />
<line x1="489.20" y1="814.60" x2="508.60" y2="814.60" stroke="#000" stroke-width="2.1" />
<line x1="525.20" y1="815.90" x2="544.60" y2="815.90" stroke="#000" stroke-width="2.1" />
<text x="462.90" y="712.60" font-size="10.6" text-anchor="middle" font-weight="normal" fill="#0d0d0d" >0.005</text>
<text x="498.90" y="685.00" font-size="10.6" text-anchor="middle" font-weight="normal" fill="#0d0d0d" >ns</text>
<text x="498.90" y="698.40" font-size="10.6" text-anchor="middle" font-weight="normal" fill="#0d0d0d" >1.87x</text>
<text x="498.90" y="712.60" font-size="10.6" text-anchor="middle" font-weight="normal" fill="#0d0d0d" >0.01</text>
<text x="534.90" y="685.00" font-size="10.6" text-anchor="middle" font-weight="normal" fill="#0d0d0d" >ns</text>
<text x="534.90" y="698.40" font-size="10.6" text-anchor="middle" font-weight="normal" fill="#0d0d0d" >1.95x</text>
<text x="534.90" y="712.60" font-size="10.6" text-anchor="middle" font-weight="normal" fill="#0d0d0d" >0.01</text>
<text x="625.50" y="665.60" font-size="13.1" text-anchor="middle" font-weight="normal" fill="#0d0d0d" >KP.3</text>
<line x1="568.50" y1="900.90" x2="682.50" y2="900.90" stroke="#111111" stroke-width="1.4" />
<line x1="589.70" y1="900.90" x2="589.70" y2="906.90" stroke="#111111" stroke-width="1.4" />
<text x="589.70" y="921.40" font-size="13.1" text-anchor="middle" font-weight="normal" fill="#0d0d0d" >T1</text>
<line x1="625.70" y1="900.90" x2="625.70" y2="906.90" stroke="#111111" stroke-width="1.4" />
<text x="625.70" y="921.40" font-size="13.1" text-anchor="middle" font-weight="normal" fill="#0d0d0d" >T2</text>
<line x1="661.70" y1="900.90" x2="661.70" y2="906.90" stroke="#111111" stroke-width="1.4" />
<text x="661.70" y="921.40" font-size="13.1" text-anchor="middle" font-weight="normal" fill="#0d0d0d" >T3</text>
<circle cx="589.70" cy="784.90" r="4.2" fill="#612F82" fill-opacity="0.6"/>
<circle cx="589.70" cy="796.90" r="4.2" fill="#612F82" fill-opacity="0.6"/>
<circle cx="589.70" cy="805.00" r="4.2" fill="#612F82" fill-opacity="0.6"/>
<circle cx="589.70" cy="806.00" r="4.2" fill="#612F82" fill-opacity="0.6"/>
<circle cx="589.70" cy="806.60" r="4.2" fill="#612F82" fill-opacity="0.6"/>
<circle cx="589.70" cy="814.60" r="4.2" fill="#612F82" fill-opacity="0.6"/>
<circle cx="589.70" cy="820.20" r="4.2" fill="#612F82" fill-opacity="0.6"/>
<circle cx="589.70" cy="821.80" r="4.2" fill="#612F82" fill-opacity="0.6"/>
<circle cx="589.70" cy="822.00" r="4.2" fill="#612F82" fill-opacity="0.6"/>
<circle cx="589.70" cy="823.40" r="4.2" fill="#612F82" fill-opacity="0.6"/>
<circle cx="625.70" cy="787.30" r="4.2" fill="#612F82" fill-opacity="0.6"/>
<circle cx="625.70" cy="802.60" r="4.2" fill="#612F82" fill-opacity="0.6"/>
<circle cx="625.70" cy="804.20" r="4.2" fill="#612F82" fill-opacity="0.6"/>
<circle cx="625.70" cy="805.00" r="4.2" fill="#612F82" fill-opacity="0.6"/>
<circle cx="625.70" cy="813.00" r="4.2" fill="#612F82" fill-opacity="0.6"/>
<circle cx="661.70" cy="775.30" r="4.2" fill="#612F82" fill-opacity="0.6"/>
<circle cx="661.70" cy="784.90" r="4.2" fill="#612F82" fill-opacity="0.6"/>
<circle cx="661.70" cy="794.50" r="4.2" fill="#612F82" fill-opacity="0.6"/>
<circle cx="661.70" cy="796.90" r="4.2" fill="#612F82" fill-opacity="0.6"/>
<circle cx="661.70" cy="797.00" r="4.2" fill="#612F82" fill-opacity="0.6"/>
<circle cx="661.70" cy="798.50" r="4.2" fill="#612F82" fill-opacity="0.6"/>
<circle cx="661.70" cy="799.00" r="4.2" fill="#612F82" fill-opacity="0.6"/>
<circle cx="661.70" cy="810.60" r="4.2" fill="#612F82" fill-opacity="0.6"/>
<circle cx="661.70" cy="811.00" r="4.2" fill="#612F82" fill-opacity="0.6"/>
<circle cx="661.70" cy="822.30" r="4.2" fill="#612F82" fill-opacity="0.6"/>
<path d="M589.70,784.90 L625.70,787.30 L661.70,775.30" fill="none" stroke="#d4d4d4" stroke-width="0.9"/>
<path d="M589.70,805.00 L625.70,802.60 L661.70,796.90" fill="none" stroke="#d4d4d4" stroke-width="0.9"/>
<path d="M589.70,806.60 L661.70,784.90" fill="none" stroke="#d4d4d4" stroke-width="0.9"/>
<path d="M589.70,796.90 L625.70,804.20 L661.70,794.50" fill="none" stroke="#d4d4d4" stroke-width="0.9"/>
<path d="M589.70,821.80 L661.70,822.30" fill="none" stroke="#d4d4d4" stroke-width="0.9"/>
<path d="M589.70,806.00 L625.70,805.00 L661.70,798.50" fill="none" stroke="#d4d4d4" stroke-width="0.9"/>
<path d="M589.70,823.40 L661.70,811.00" fill="none" stroke="#d4d4d4" stroke-width="0.9"/>
<path d="M589.70,822.00 L625.70,813.00 L661.70,810.60" fill="none" stroke="#d4d4d4" stroke-width="0.9"/>
<path d="M589.70,814.60 L661.70,797.00" fill="none" stroke="#d4d4d4" stroke-width="0.9"/>
<path d="M589.70,820.20 L661.70,799.00" fill="none" stroke="#d4d4d4" stroke-width="0.9"/>
<line x1="580.00" y1="811.40" x2="599.40" y2="811.40" stroke="#000" stroke-width="2.1" />
<line x1="616.00" y1="803.40" x2="635.40" y2="803.40" stroke="#000" stroke-width="2.1" />
<line x1="652.00" y1="799.80" x2="671.40" y2="799.80" stroke="#000" stroke-width="2.1" />
<text x="589.70" y="712.60" font-size="10.6" text-anchor="middle" font-weight="normal" fill="#0d0d0d" >0.01</text>
<text x="625.70" y="685.00" font-size="10.6" text-anchor="middle" font-weight="normal" fill="#0d0d0d" >ns</text>
<text x="625.70" y="698.40" font-size="10.6" text-anchor="middle" font-weight="normal" fill="#0d0d0d" >1.43x</text>
<text x="625.70" y="712.60" font-size="10.6" text-anchor="middle" font-weight="normal" fill="#0d0d0d" >0.014</text>
<text x="661.70" y="685.00" font-size="10.6" text-anchor="middle" font-weight="normal" fill="#0d0d0d" >ns</text>
<text x="661.70" y="698.40" font-size="10.6" text-anchor="middle" font-weight="normal" fill="#0d0d0d" >2.02x</text>
<text x="661.70" y="712.60" font-size="10.6" text-anchor="middle" font-weight="normal" fill="#0d0d0d" >0.02</text>
<text x="1.60" y="956.90" font-size="16" text-anchor="start" font-weight="bold" fill="#000" >d</text>
<text x="383.50" y="959.00" font-size="12.9" text-anchor="middle" font-weight="bold" fill="#111" >Neutralization Potency by Variant (Double infection)</text>
<line x1="61.30" y1="994.30" x2="61.30" y2="1224.90" stroke="#111111" stroke-width="1.4" />
<line x1="55.10" y1="1000.40" x2="61.30" y2="1000.40" stroke="#111111" stroke-width="1.4" />
<text x="51.10" y="1006.30" font-size="13.1" text-anchor="end" fill="#0d0d0d">10<tspan font-size="8.8" dy="-5.4">1</tspan></text>
<line x1="55.10" y1="1043.16" x2="61.30" y2="1043.16" stroke="#111111" stroke-width="1.4" />
<text x="51.10" y="1049.06" font-size="13.1" text-anchor="end" fill="#0d0d0d">10<tspan font-size="8.8" dy="-5.4">0</tspan></text>
<line x1="55.10" y1="1085.92" x2="61.30" y2="1085.92" stroke="#111111" stroke-width="1.4" />
<text x="51.10" y="1091.82" font-size="13.1" text-anchor="end" fill="#0d0d0d">10<tspan font-size="8.8" dy="-5.4">−1</tspan></text>
<line x1="55.10" y1="1128.68" x2="61.30" y2="1128.68" stroke="#111111" stroke-width="1.4" />
<text x="51.10" y="1134.58" font-size="13.1" text-anchor="end" fill="#0d0d0d">10<tspan font-size="8.8" dy="-5.4">−2</tspan></text>
<line x1="55.10" y1="1171.44" x2="61.30" y2="1171.44" stroke="#111111" stroke-width="1.4" />
<text x="51.10" y="1177.34" font-size="13.1" text-anchor="end" fill="#0d0d0d">10<tspan font-size="8.8" dy="-5.4">−3</tspan></text>
<line x1="55.10" y1="1214.20" x2="61.30" y2="1214.20" stroke="#111111" stroke-width="1.4" />
<text x="51.10" y="1220.10" font-size="13.1" text-anchor="end" fill="#0d0d0d">10<tspan font-size="8.8" dy="-5.4">−4</tspan></text>
<text transform="translate(14.8,1109.00) rotate(-90)" font-size="13.1" text-anchor="middle" fill="#0d0d0d">pVNT<tspan font-size="9" dy="2.5">50</tspan><tspan dy="-2.5"> Titer/ RBD IgG Titer</tspan></text>
<text x="118.30" y="982.90" font-size="13.1" text-anchor="middle" font-weight="normal" fill="#0d0d0d" >WT</text>
<line x1="61.30" y1="1224.40" x2="175.30" y2="1224.40" stroke="#111111" stroke-width="1.4" />
<line x1="82.50" y1="1224.40" x2="82.50" y2="1230.40" stroke="#111111" stroke-width="1.4" />
<text x="82.50" y="1244.30" font-size="13.1" text-anchor="middle" font-weight="normal" fill="#0d0d0d" >T1</text>
<line x1="118.50" y1="1224.40" x2="118.50" y2="1230.40" stroke="#111111" stroke-width="1.4" />
<text x="118.50" y="1244.30" font-size="13.1" text-anchor="middle" font-weight="normal" fill="#0d0d0d" >T2</text>
<line x1="154.50" y1="1224.40" x2="154.50" y2="1230.40" stroke="#111111" stroke-width="1.4" />
<text x="154.50" y="1244.30" font-size="13.1" text-anchor="middle" font-weight="normal" fill="#0d0d0d" >T3</text>
<circle cx="82.50" cy="1072.30" r="4.2" fill="#CF6454" fill-opacity="0.6"/>
<circle cx="82.50" cy="1086.30" r="4.2" fill="#CF6454" fill-opacity="0.6"/>
<circle cx="82.50" cy="1088.70" r="4.2" fill="#CF6454" fill-opacity="0.6"/>
<circle cx="82.50" cy="1090.00" r="4.2" fill="#CF6454" fill-opacity="0.6"/>
<circle cx="82.50" cy="1091.10" r="4.2" fill="#CF6454" fill-opacity="0.6"/>
<circle cx="82.50" cy="1094.30" r="4.2" fill="#CF6454" fill-opacity="0.6"/>
<circle cx="82.50" cy="1095.00" r="4.2" fill="#CF6454" fill-opacity="0.6"/>
<circle cx="82.50" cy="1097.60" r="4.2" fill="#CF6454" fill-opacity="0.6"/>
<circle cx="82.50" cy="1104.00" r="4.2" fill="#CF6454" fill-opacity="0.6"/>
<circle cx="82.50" cy="1106.40" r="4.2" fill="#CF6454" fill-opacity="0.6"/>
<circle cx="82.50" cy="1109.60" r="4.2" fill="#CF6454" fill-opacity="0.6"/>
<circle cx="82.50" cy="1112.00" r="4.2" fill="#CF6454" fill-opacity="0.6"/>
<circle cx="118.50" cy="1068.70" r="4.2" fill="#CF6454" fill-opacity="0.6"/>
<circle cx="118.50" cy="1075.90" r="4.2" fill="#CF6454" fill-opacity="0.6"/>
<circle cx="118.50" cy="1078.30" r="4.2" fill="#CF6454" fill-opacity="0.6"/>
<circle cx="118.50" cy="1080.00" r="4.2" fill="#CF6454" fill-opacity="0.6"/>
<circle cx="118.50" cy="1084.70" r="4.2" fill="#CF6454" fill-opacity="0.6"/>
<circle cx="118.50" cy="1087.10" r="4.2" fill="#CF6454" fill-opacity="0.6"/>
<circle cx="118.50" cy="1090.00" r="4.2" fill="#CF6454" fill-opacity="0.6"/>
<circle cx="118.50" cy="1093.50" r="4.2" fill="#CF6454" fill-opacity="0.6"/>
<circle cx="118.50" cy="1095.00" r="4.2" fill="#CF6454" fill-opacity="0.6"/>
<circle cx="118.50" cy="1096.00" r="4.2" fill="#CF6454" fill-opacity="0.6"/>
<circle cx="118.50" cy="1098.00" r="4.2" fill="#CF6454" fill-opacity="0.6"/>
<circle cx="118.50" cy="1101.60" r="4.2" fill="#CF6454" fill-opacity="0.6"/>
<circle cx="154.50" cy="1083.10" r="4.2" fill="#CF6454" fill-opacity="0.6"/>
<circle cx="154.50" cy="1086.30" r="4.2" fill="#CF6454" fill-opacity="0.6"/>
<circle cx="154.50" cy="1088.70" r="4.2" fill="#CF6454" fill-opacity="0.6"/>
<circle cx="154.50" cy="1090.00" r="4.2" fill="#CF6454" fill-opacity="0.6"/>
<circle cx="154.50" cy="1091.10" r="4.2" fill="#CF6454" fill-opacity="0.6"/>
<circle cx="154.50" cy="1093.50" r="4.2" fill="#CF6454" fill-opacity="0.6"/>
<circle cx="154.50" cy="1095.00" r="4.2" fill="#CF6454" fill-opacity="0.6"/>
<circle cx="154.50" cy="1096.80" r="4.2" fill="#CF6454" fill-opacity="0.6"/>
<circle cx="154.50" cy="1098.00" r="4.2" fill="#CF6454" fill-opacity="0.6"/>
<circle cx="154.50" cy="1100.80" r="4.2" fill="#CF6454" fill-opacity="0.6"/>
<circle cx="154.50" cy="1102.40" r="4.2" fill="#CF6454" fill-opacity="0.6"/>
<circle cx="154.50" cy="1114.10" r="4.2" fill="#CF6454" fill-opacity="0.6"/>
<path d="M82.50,1086.30 L118.50,1084.70 L154.50,1088.70" fill="none" stroke="#d4d4d4" stroke-width="0.9"/>
<path d="M82.50,1072.30 L118.50,1068.70 L154.50,1086.30" fill="none" stroke="#d4d4d4" stroke-width="0.9"/>
<path d="M82.50,1090.00 L118.50,1078.30 L154.50,1083.10" fill="none" stroke="#d4d4d4" stroke-width="0.9"/>
<path d="M82.50,1091.10 L118.50,1087.10 L154.50,1090.00" fill="none" stroke="#d4d4d4" stroke-width="0.9"/>
<path d="M82.50,1106.40 L118.50,1080.00 L154.50,1091.10" fill="none" stroke="#d4d4d4" stroke-width="0.9"/>
<path d="M82.50,1095.00 L118.50,1075.90 L154.50,1096.80" fill="none" stroke="#d4d4d4" stroke-width="0.9"/>
<path d="M82.50,1104.00 L118.50,1090.00 L154.50,1093.50" fill="none" stroke="#d4d4d4" stroke-width="0.9"/>
<path d="M82.50,1094.30 L118.50,1093.50 L154.50,1098.00" fill="none" stroke="#d4d4d4" stroke-width="0.9"/>
<path d="M82.50,1088.70 L118.50,1098.00 L154.50,1095.00" fill="none" stroke="#d4d4d4" stroke-width="0.9"/>
<path d="M82.50,1097.60 L118.50,1095.00 L154.50,1102.40" fill="none" stroke="#d4d4d4" stroke-width="0.9"/>
<path d="M82.50,1112.00 L118.50,1101.60 L154.50,1114.10" fill="none" stroke="#d4d4d4" stroke-width="0.9"/>
<path d="M82.50,1109.60 L118.50,1096.00 L154.50,1100.80" fill="none" stroke="#d4d4d4" stroke-width="0.9"/>
<line x1="72.80" y1="1097.10" x2="92.20" y2="1097.10" stroke="#000" stroke-width="2.1" />
<line x1="108.80" y1="1090.00" x2="128.20" y2="1090.00" stroke="#000" stroke-width="2.1" />
<line x1="144.80" y1="1098.00" x2="164.20" y2="1098.00" stroke="#000" stroke-width="2.1" />
<text x="82.50" y="1035.60" font-size="10.6" text-anchor="middle" font-weight="normal" fill="#0d0d0d" >0.072</text>
<text x="118.50" y="1008.00" font-size="10.6" text-anchor="middle" font-weight="normal" fill="#0d0d0d" >ns</text>
<text x="118.50" y="1021.40" font-size="10.6" text-anchor="middle" font-weight="normal" fill="#0d0d0d" >1.46x</text>
<text x="118.50" y="1035.60" font-size="10.6" text-anchor="middle" font-weight="normal" fill="#0d0d0d" >0.103</text>
<text x="154.50" y="1008.00" font-size="10.6" text-anchor="middle" font-weight="normal" fill="#0d0d0d" >ns</text>
<text x="154.50" y="1021.40" font-size="10.6" text-anchor="middle" font-weight="normal" fill="#0d0d0d" >0.99x</text>
<text x="154.50" y="1035.60" font-size="10.6" text-anchor="middle" font-weight="normal" fill="#0d0d0d" >0.063</text>
<text x="245.10" y="982.90" font-size="13.1" text-anchor="middle" font-weight="normal" fill="#0d0d0d" >BA.5</text>
<line x1="188.10" y1="1224.40" x2="302.10" y2="1224.40" stroke="#111111" stroke-width="1.4" />
<line x1="209.30" y1="1224.40" x2="209.30" y2="1230.40" stroke="#111111" stroke-width="1.4" />
<text x="209.30" y="1244.30" font-size="13.1" text-anchor="middle" font-weight="normal" fill="#0d0d0d" >T1</text>
<line x1="245.30" y1="1224.40" x2="245.30" y2="1230.40" stroke="#111111" stroke-width="1.4" />
<text x="245.30" y="1244.30" font-size="13.1" text-anchor="middle" font-weight="normal" fill="#0d0d0d" >T2</text>
<line x1="281.30" y1="1224.40" x2="281.30" y2="1230.40" stroke="#111111" stroke-width="1.4" />
<text x="281.30" y="1244.30" font-size="13.1" text-anchor="middle" font-weight="normal" fill="#0d0d0d" >T3</text>
<circle cx="209.30" cy="1090.10" r="4.2" fill="#5061AC" fill-opacity="0.6"/>
<circle cx="209.30" cy="1093.30" r="4.2" fill="#5061AC" fill-opacity="0.6"/>
<circle cx="209.30" cy="1095.70" r="4.2" fill="#5061AC" fill-opacity="0.6"/>
<circle cx="209.30" cy="1100.00" r="4.2" fill="#5061AC" fill-opacity="0.6"/>
<circle cx="209.30" cy="1102.90" r="4.2" fill="#5061AC" fill-opacity="0.6"/>
<circle cx="209.30" cy="1105.30" r="4.2" fill="#5061AC" fill-opacity="0.6"/>
<circle cx="209.30" cy="1107.70" r="4.2" fill="#5061AC" fill-opacity="0.6"/>
<circle cx="209.30" cy="1121.40" r="4.2" fill="#5061AC" fill-opacity="0.6"/>
<circle cx="209.30" cy="1131.00" r="4.2" fill="#5061AC" fill-opacity="0.6"/>
<circle cx="209.30" cy="1134.20" r="4.2" fill="#5061AC" fill-opacity="0.6"/>
<circle cx="209.30" cy="1137.40" r="4.2" fill="#5061AC" fill-opacity="0.6"/>
<circle cx="209.30" cy="1141.50" r="4.2" fill="#5061AC" fill-opacity="0.6"/>
<circle cx="245.30" cy="1078.00" r="4.2" fill="#5061AC" fill-opacity="0.6"/>
<circle cx="245.30" cy="1082.00" r="4.2" fill="#5061AC" fill-opacity="0.6"/>
<circle cx="245.30" cy="1086.10" r="4.2" fill="#5061AC" fill-opacity="0.6"/>
<circle cx="245.30" cy="1090.10" r="4.2" fill="#5061AC" fill-opacity="0.6"/>
<circle cx="245.30" cy="1094.10" r="4.2" fill="#5061AC" fill-opacity="0.6"/>
<circle cx="245.30" cy="1097.30" r="4.2" fill="#5061AC" fill-opacity="0.6"/>
<circle cx="245.30" cy="1099.70" r="4.2" fill="#5061AC" fill-opacity="0.6"/>
<circle cx="245.30" cy="1107.70" r="4.2" fill="#5061AC" fill-opacity="0.6"/>
<circle cx="245.30" cy="1111.00" r="4.2" fill="#5061AC" fill-opacity="0.6"/>
<circle cx="245.30" cy="1113.40" r="4.2" fill="#5061AC" fill-opacity="0.6"/>
<circle cx="245.30" cy="1117.40" r="4.2" fill="#5061AC" fill-opacity="0.6"/>
<circle cx="245.30" cy="1127.00" r="4.2" fill="#5061AC" fill-opacity="0.6"/>
<circle cx="281.30" cy="1072.90" r="4.2" fill="#5061AC" fill-opacity="0.6"/>
<circle cx="281.30" cy="1077.20" r="4.2" fill="#5061AC" fill-opacity="0.6"/>
<circle cx="281.30" cy="1080.00" r="4.2" fill="#5061AC" fill-opacity="0.6"/>
<circle cx="281.30" cy="1082.00" r="4.2" fill="#5061AC" fill-opacity="0.6"/>
<circle cx="281.30" cy="1086.10" r="4.2" fill="#5061AC" fill-opacity="0.6"/>
<circle cx="281.30" cy="1094.10" r="4.2" fill="#5061AC" fill-opacity="0.6"/>
<circle cx="281.30" cy="1100.50" r="4.2" fill="#5061AC" fill-opacity="0.6"/>
<circle cx="281.30" cy="1102.10" r="4.2" fill="#5061AC" fill-opacity="0.6"/>
<circle cx="281.30" cy="1105.30" r="4.2" fill="#5061AC" fill-opacity="0.6"/>
<circle cx="281.30" cy="1108.50" r="4.2" fill="#5061AC" fill-opacity="0.6"/>
<circle cx="281.30" cy="1111.80" r="4.2" fill="#5061AC" fill-opacity="0.6"/>
<circle cx="281.30" cy="1115.00" r="4.2" fill="#5061AC" fill-opacity="0.6"/>
<path d="M209.30,1093.30 L245.30,1078.00 L281.30,1077.20" fill="none" stroke="#d4d4d4" stroke-width="0.9"/>
<path d="M209.30,1102.90 L245.30,1082.00 L281.30,1072.90" fill="none" stroke="#d4d4d4" stroke-width="0.9"/>
<path d="M209.30,1090.10 L245.30,1090.10 L281.30,1082.00" fill="none" stroke="#d4d4d4" stroke-width="0.9"/>
<path d="M209.30,1121.40 L245.30,1086.10 L281.30,1080.00" fill="none" stroke="#d4d4d4" stroke-width="0.9"/>
<path d="M209.30,1134.20 L245.30,1113.40 L281.30,1100.50" fill="none" stroke="#d4d4d4" stroke-width="0.9"/>
<path d="M209.30,1107.70 L245.30,1117.40 L281.30,1108.50" fill="none" stroke="#d4d4d4" stroke-width="0.9"/>
<path d="M209.30,1131.00 L245.30,1111.00 L281.30,1086.10" fill="none" stroke="#d4d4d4" stroke-width="0.9"/>
<path d="M209.30,1100.00 L245.30,1099.70 L281.30,1105.30" fill="none" stroke="#d4d4d4" stroke-width="0.9"/>
<path d="M209.30,1095.70 L245.30,1094.10 L281.30,1094.10" fill="none" stroke="#d4d4d4" stroke-width="0.9"/>
<path d="M209.30,1105.30 L245.30,1107.70 L281.30,1102.10" fill="none" stroke="#d4d4d4" stroke-width="0.9"/>
<path d="M209.30,1141.50 L245.30,1097.30 L281.30,1111.80" fill="none" stroke="#d4d4d4" stroke-width="0.9"/>
<path d="M209.30,1137.40 L245.30,1127.00 L281.30,1115.00" fill="none" stroke="#d4d4d4" stroke-width="0.9"/>
<line x1="199.60" y1="1116.30" x2="219.00" y2="1116.30" stroke="#000" stroke-width="2.1" />
<line x1="235.60" y1="1102.40" x2="255.00" y2="1102.40" stroke="#000" stroke-width="2.1" />
<line x1="271.60" y1="1096.80" x2="291.00" y2="1096.80" stroke="#000" stroke-width="2.1" />
<text x="209.30" y="1035.60" font-size="10.6" text-anchor="middle" font-weight="normal" fill="#0d0d0d" >0.031</text>
<text x="245.30" y="1008.00" font-size="10.6" text-anchor="middle" font-weight="normal" fill="#0d0d0d" >ns</text>
<text x="245.30" y="1021.40" font-size="10.6" text-anchor="middle" font-weight="normal" fill="#0d0d0d" >1.95x</text>
<text x="245.30" y="1035.60" font-size="10.6" text-anchor="middle" font-weight="normal" fill="#0d0d0d" >0.06</text>
<text x="281.30" y="1010.60" font-size="10.6" text-anchor="middle" font-weight="normal" fill="#0d0d0d" >*</text>
<text x="281.30" y="1021.40" font-size="10.6" text-anchor="middle" font-weight="normal" fill="#0d0d0d" >2.73x</text>
<text x="281.30" y="1035.60" font-size="10.6" text-anchor="middle" font-weight="normal" fill="#0d0d0d" >0.08</text>
<text x="371.90" y="982.90" font-size="13.1" text-anchor="middle" font-weight="normal" fill="#0d0d0d" >XBB.1.5</text>
<line x1="314.90" y1="1224.40" x2="428.90" y2="1224.40" stroke="#111111" stroke-width="1.4" />
<line x1="336.10" y1="1224.40" x2="336.10" y2="1230.40" stroke="#111111" stroke-width="1.4" />
<text x="336.10" y="1244.30" font-size="13.1" text-anchor="middle" font-weight="normal" fill="#0d0d0d" >T1</text>
<line x1="372.10" y1="1224.40" x2="372.10" y2="1230.40" stroke="#111111" stroke-width="1.4" />
<text x="372.10" y="1244.30" font-size="13.1" text-anchor="middle" font-weight="normal" fill="#0d0d0d" >T2</text>
<line x1="408.10" y1="1224.40" x2="408.10" y2="1230.40" stroke="#111111" stroke-width="1.4" />
<text x="408.10" y="1244.30" font-size="13.1" text-anchor="middle" font-weight="normal" fill="#0d0d0d" >T3</text>
<circle cx="336.10" cy="1141.20" r="4.2" fill="#C59B2F" fill-opacity="0.6"/>
<circle cx="336.10" cy="1150.10" r="4.2" fill="#C59B2F" fill-opacity="0.6"/>
<circle cx="336.10" cy="1152.00" r="4.2" fill="#C59B2F" fill-opacity="0.6"/>
<circle cx="336.10" cy="1153.30" r="4.2" fill="#C59B2F" fill-opacity="0.6"/>
<circle cx="336.10" cy="1155.70" r="4.2" fill="#C59B2F" fill-opacity="0.6"/>
<circle cx="336.10" cy="1158.10" r="4.2" fill="#C59B2F" fill-opacity="0.6"/>
<circle cx="336.10" cy="1160.50" r="4.2" fill="#C59B2F" fill-opacity="0.6"/>
<circle cx="336.10" cy="1163.00" r="4.2" fill="#C59B2F" fill-opacity="0.6"/>
<circle cx="336.10" cy="1166.90" r="4.2" fill="#C59B2F" fill-opacity="0.6"/>
<circle cx="336.10" cy="1176.60" r="4.2" fill="#C59B2F" fill-opacity="0.6"/>
<circle cx="336.10" cy="1179.00" r="4.2" fill="#C59B2F" fill-opacity="0.6"/>
<circle cx="336.10" cy="1181.40" r="4.2" fill="#C59B2F" fill-opacity="0.6"/>
<circle cx="372.10" cy="1146.10" r="4.2" fill="#C59B2F" fill-opacity="0.6"/>
<circle cx="372.10" cy="1148.50" r="4.2" fill="#C59B2F" fill-opacity="0.6"/>
<circle cx="372.10" cy="1150.90" r="4.2" fill="#C59B2F" fill-opacity="0.6"/>
<circle cx="372.10" cy="1152.00" r="4.2" fill="#C59B2F" fill-opacity="0.6"/>
<circle cx="372.10" cy="1154.10" r="4.2" fill="#C59B2F" fill-opacity="0.6"/>
<circle cx="372.10" cy="1157.30" r="4.2" fill="#C59B2F" fill-opacity="0.6"/>
<circle cx="372.10" cy="1160.00" r="4.2" fill="#C59B2F" fill-opacity="0.6"/>
<circle cx="372.10" cy="1172.60" r="4.2" fill="#C59B2F" fill-opacity="0.6"/>
<circle cx="372.10" cy="1175.00" r="4.2" fill="#C59B2F" fill-opacity="0.6"/>
<circle cx="372.10" cy="1177.00" r="4.2" fill="#C59B2F" fill-opacity="0.6"/>
<circle cx="372.10" cy="1178.20" r="4.2" fill="#C59B2F" fill-opacity="0.6"/>
<circle cx="372.10" cy="1180.60" r="4.2" fill="#C59B2F" fill-opacity="0.6"/>
<circle cx="408.10" cy="1109.60" r="4.2" fill="#C59B2F" fill-opacity="0.6"/>
<circle cx="408.10" cy="1113.70" r="4.2" fill="#C59B2F" fill-opacity="0.6"/>
<circle cx="408.10" cy="1116.00" r="4.2" fill="#C59B2F" fill-opacity="0.6"/>
<circle cx="408.10" cy="1119.30" r="4.2" fill="#C59B2F" fill-opacity="0.6"/>
<circle cx="408.10" cy="1122.50" r="4.2" fill="#C59B2F" fill-opacity="0.6"/>
<circle cx="408.10" cy="1125.70" r="4.2" fill="#C59B2F" fill-opacity="0.6"/>
<circle cx="408.10" cy="1128.00" r="4.2" fill="#C59B2F" fill-opacity="0.6"/>
<circle cx="408.10" cy="1132.90" r="4.2" fill="#C59B2F" fill-opacity="0.6"/>
<circle cx="408.10" cy="1134.00" r="4.2" fill="#C59B2F" fill-opacity="0.6"/>
<circle cx="408.10" cy="1136.10" r="4.2" fill="#C59B2F" fill-opacity="0.6"/>
<circle cx="408.10" cy="1138.50" r="4.2" fill="#C59B2F" fill-opacity="0.6"/>
<circle cx="408.10" cy="1150.60" r="4.2" fill="#C59B2F" fill-opacity="0.6"/>
<path d="M336.10,1141.20 L372.10,1146.10 L408.10,1113.70" fill="none" stroke="#d4d4d4" stroke-width="0.9"/>
<path d="M336.10,1158.10 L372.10,1148.50 L408.10,1116.00" fill="none" stroke="#d4d4d4" stroke-width="0.9"/>
<path d="M336.10,1150.10 L372.10,1157.30 L408.10,1122.50" fill="none" stroke="#d4d4d4" stroke-width="0.9"/>
<path d="M336.10,1160.50 L372.10,1154.10 L408.10,1109.60" fill="none" stroke="#d4d4d4" stroke-width="0.9"/>
<path d="M336.10,1152.00 L372.10,1177.00 L408.10,1128.00" fill="none" stroke="#d4d4d4" stroke-width="0.9"/>
<path d="M336.10,1155.70 L372.10,1150.90 L408.10,1136.10" fill="none" stroke="#d4d4d4" stroke-width="0.9"/>
<path d="M336.10,1153.30 L372.10,1152.00 L408.10,1125.70" fill="none" stroke="#d4d4d4" stroke-width="0.9"/>
<path d="M336.10,1163.00 L372.10,1160.00 L408.10,1119.30" fill="none" stroke="#d4d4d4" stroke-width="0.9"/>
<path d="M336.10,1179.00 L372.10,1180.60 L408.10,1134.00" fill="none" stroke="#d4d4d4" stroke-width="0.9"/>
<path d="M336.10,1166.90 L372.10,1175.00 L408.10,1132.90" fill="none" stroke="#d4d4d4" stroke-width="0.9"/>
<path d="M336.10,1176.60 L372.10,1172.60 L408.10,1150.60" fill="none" stroke="#d4d4d4" stroke-width="0.9"/>
<path d="M336.10,1181.40 L372.10,1178.20 L408.10,1138.50" fill="none" stroke="#d4d4d4" stroke-width="0.9"/>
<line x1="326.40" y1="1165.80" x2="345.80" y2="1165.80" stroke="#000" stroke-width="2.1" />
<line x1="362.40" y1="1161.80" x2="381.80" y2="1161.80" stroke="#000" stroke-width="2.1" />
<line x1="398.40" y1="1129.20" x2="417.80" y2="1129.20" stroke="#000" stroke-width="2.1" />
<text x="336.10" y="1035.60" font-size="10.6" text-anchor="middle" font-weight="normal" fill="#0d0d0d" >0.002</text>
<text x="372.10" y="1008.00" font-size="10.6" text-anchor="middle" font-weight="normal" fill="#0d0d0d" >ns</text>
<text x="372.10" y="1021.40" font-size="10.6" text-anchor="middle" font-weight="normal" fill="#0d0d0d" >1.17x</text>
<text x="372.10" y="1035.60" font-size="10.6" text-anchor="middle" font-weight="normal" fill="#0d0d0d" >0.002</text>
<text x="408.10" y="1010.60" font-size="10.6" text-anchor="middle" font-weight="normal" fill="#0d0d0d" >***</text>
<text x="408.10" y="1021.40" font-size="10.6" text-anchor="middle" font-weight="normal" fill="#0d0d0d" >7.15x</text>
<text x="408.10" y="1035.60" font-size="10.6" text-anchor="middle" font-weight="normal" fill="#0d0d0d" >0.012</text>
<text x="498.70" y="982.90" font-size="13.1" text-anchor="middle" font-weight="normal" fill="#0d0d0d" >JN.1</text>
<line x1="441.70" y1="1224.40" x2="555.70" y2="1224.40" stroke="#111111" stroke-width="1.4" />
<line x1="462.90" y1="1224.40" x2="462.90" y2="1230.40" stroke="#111111" stroke-width="1.4" />
<text x="462.90" y="1244.30" font-size="13.1" text-anchor="middle" font-weight="normal" fill="#0d0d0d" >T1</text>
<line x1="498.90" y1="1224.40" x2="498.90" y2="1230.40" stroke="#111111" stroke-width="1.4" />
<text x="498.90" y="1244.30" font-size="13.1" text-anchor="middle" font-weight="normal" fill="#0d0d0d" >T2</text>
<line x1="534.90" y1="1224.40" x2="534.90" y2="1230.40" stroke="#111111" stroke-width="1.4" />
<text x="534.90" y="1244.30" font-size="13.1" text-anchor="middle" font-weight="normal" fill="#0d0d0d" >T3</text>
<circle cx="462.90" cy="1103.40" r="4.2" fill="#8237C5" fill-opacity="0.6"/>
<circle cx="462.90" cy="1128.30" r="4.2" fill="#8237C5" fill-opacity="0.6"/>
<circle cx="462.90" cy="1134.70" r="4.2" fill="#8237C5" fill-opacity="0.6"/>
<circle cx="462.90" cy="1138.70" r="4.2" fill="#8237C5" fill-opacity="0.6"/>
<circle cx="462.90" cy="1145.10" r="4.2" fill="#8237C5" fill-opacity="0.6"/>
<circle cx="462.90" cy="1147.50" r="4.2" fill="#8237C5" fill-opacity="0.6"/>
<circle cx="462.90" cy="1154.70" r="4.2" fill="#8237C5" fill-opacity="0.6"/>
<circle cx="462.90" cy="1163.60" r="4.2" fill="#8237C5" fill-opacity="0.6"/>
<circle cx="462.90" cy="1164.10" r="4.2" fill="#8237C5" fill-opacity="0.6"/>
<circle cx="462.90" cy="1167.30" r="4.2" fill="#8237C5" fill-opacity="0.6"/>
<circle cx="462.90" cy="1170.50" r="4.2" fill="#8237C5" fill-opacity="0.6"/>
<circle cx="462.90" cy="1172.90" r="4.2" fill="#8237C5" fill-opacity="0.6"/>
<circle cx="498.90" cy="1129.90" r="4.2" fill="#8237C5" fill-opacity="0.6"/>
<circle cx="498.90" cy="1135.50" r="4.2" fill="#8237C5" fill-opacity="0.6"/>
<circle cx="498.90" cy="1138.70" r="4.2" fill="#8237C5" fill-opacity="0.6"/>
<circle cx="498.90" cy="1143.50" r="4.2" fill="#8237C5" fill-opacity="0.6"/>
<circle cx="498.90" cy="1147.50" r="4.2" fill="#8237C5" fill-opacity="0.6"/>
<circle cx="498.90" cy="1150.70" r="4.2" fill="#8237C5" fill-opacity="0.6"/>
<circle cx="498.90" cy="1160.90" r="4.2" fill="#8237C5" fill-opacity="0.6"/>
<circle cx="498.90" cy="1164.10" r="4.2" fill="#8237C5" fill-opacity="0.6"/>
<circle cx="498.90" cy="1166.00" r="4.2" fill="#8237C5" fill-opacity="0.6"/>
<circle cx="498.90" cy="1169.20" r="4.2" fill="#8237C5" fill-opacity="0.6"/>
<circle cx="498.90" cy="1169.70" r="4.2" fill="#8237C5" fill-opacity="0.6"/>
<circle cx="498.90" cy="1175.30" r="4.2" fill="#8237C5" fill-opacity="0.6"/>
<circle cx="534.90" cy="1077.30" r="4.2" fill="#8237C5" fill-opacity="0.6"/>
<circle cx="534.90" cy="1095.00" r="4.2" fill="#8237C5" fill-opacity="0.6"/>
<circle cx="534.90" cy="1104.20" r="4.2" fill="#8237C5" fill-opacity="0.6"/>
<circle cx="534.90" cy="1108.00" r="4.2" fill="#8237C5" fill-opacity="0.6"/>
<circle cx="534.90" cy="1113.00" r="4.2" fill="#8237C5" fill-opacity="0.6"/>
<circle cx="534.90" cy="1116.20" r="4.2" fill="#8237C5" fill-opacity="0.6"/>
<circle cx="534.90" cy="1120.00" r="4.2" fill="#8237C5" fill-opacity="0.6"/>
<circle cx="534.90" cy="1125.00" r="4.2" fill="#8237C5" fill-opacity="0.6"/>
<circle cx="534.90" cy="1130.70" r="4.2" fill="#8237C5" fill-opacity="0.6"/>
<circle cx="534.90" cy="1135.50" r="4.2" fill="#8237C5" fill-opacity="0.6"/>
<circle cx="534.90" cy="1137.90" r="4.2" fill="#8237C5" fill-opacity="0.6"/>
<circle cx="534.90" cy="1170.50" r="4.2" fill="#8237C5" fill-opacity="0.6"/>
<path d="M462.90,1103.40 L498.90,1135.50 L534.90,1077.30" fill="none" stroke="#d4d4d4" stroke-width="0.9"/>
<path d="M462.90,1145.10 L498.90,1138.70 L534.90,1104.20" fill="none" stroke="#d4d4d4" stroke-width="0.9"/>
<path d="M462.90,1128.30 L498.90,1129.90 L534.90,1108.00" fill="none" stroke="#d4d4d4" stroke-width="0.9"/>
<path d="M462.90,1134.70 L498.90,1147.50 L534.90,1095.00" fill="none" stroke="#d4d4d4" stroke-width="0.9"/>
<path d="M462.90,1147.50 L498.90,1143.50 L534.90,1116.20" fill="none" stroke="#d4d4d4" stroke-width="0.9"/>
<path d="M462.90,1138.70 L498.90,1166.00 L534.90,1120.00" fill="none" stroke="#d4d4d4" stroke-width="0.9"/>
<path d="M462.90,1154.70 L498.90,1160.90 L534.90,1130.70" fill="none" stroke="#d4d4d4" stroke-width="0.9"/>
<path d="M462.90,1172.90 L498.90,1150.70 L534.90,1113.00" fill="none" stroke="#d4d4d4" stroke-width="0.9"/>
<path d="M462.90,1167.30 L498.90,1164.10 L534.90,1135.50" fill="none" stroke="#d4d4d4" stroke-width="0.9"/>
<path d="M462.90,1163.60 L498.90,1169.70 L534.90,1137.90" fill="none" stroke="#d4d4d4" stroke-width="0.9"/>
<path d="M462.90,1164.10 L498.90,1169.20 L534.90,1170.50" fill="none" stroke="#d4d4d4" stroke-width="0.9"/>
<path d="M462.90,1170.50 L498.90,1175.30 L534.90,1125.00" fill="none" stroke="#d4d4d4" stroke-width="0.9"/>
<line x1="453.20" y1="1150.70" x2="472.60" y2="1150.70" stroke="#000" stroke-width="2.1" />
<line x1="489.20" y1="1153.50" x2="508.60" y2="1153.50" stroke="#000" stroke-width="2.1" />
<line x1="525.20" y1="1122.60" x2="544.60" y2="1122.60" stroke="#000" stroke-width="2.1" />
<text x="462.90" y="1035.60" font-size="10.6" text-anchor="middle" font-weight="normal" fill="#0d0d0d" >0.006</text>
<text x="498.90" y="1008.00" font-size="10.6" text-anchor="middle" font-weight="normal" fill="#0d0d0d" >ns</text>
<text x="498.90" y="1021.40" font-size="10.6" text-anchor="middle" font-weight="normal" fill="#0d0d0d" >0.52x</text>
<text x="498.90" y="1035.60" font-size="10.6" text-anchor="middle" font-weight="normal" fill="#0d0d0d" >0.004</text>
<text x="534.90" y="1010.60" font-size="10.6" text-anchor="middle" font-weight="normal" fill="#0d0d0d" >***</text>
<text x="534.90" y="1021.40" font-size="10.6" text-anchor="middle" font-weight="normal" fill="#0d0d0d" >4.44x</text>
<text x="534.90" y="1035.60" font-size="10.6" text-anchor="middle" font-weight="normal" fill="#0d0d0d" >0.031</text>
<text x="625.50" y="982.90" font-size="13.1" text-anchor="middle" font-weight="normal" fill="#0d0d0d" >KP.3</text>
<line x1="568.50" y1="1224.40" x2="682.50" y2="1224.40" stroke="#111111" stroke-width="1.4" />
<line x1="589.70" y1="1224.40" x2="589.70" y2="1230.40" stroke="#111111" stroke-width="1.4" />
<text x="589.70" y="1244.30" font-size="13.1" text-anchor="middle" font-weight="normal" fill="#0d0d0d" >T1</text>
<line x1="625.70" y1="1224.40" x2="625.70" y2="1230.40" stroke="#111111" stroke-width="1.4" />
<text x="625.70" y="1244.30" font-size="13.1" text-anchor="middle" font-weight="normal" fill="#0d0d0d" >T2</text>
<line x1="661.70" y1="1224.40" x2="661.70" y2="1230.40" stroke="#111111" stroke-width="1.4" />
<text x="661.70" y="1244.30" font-size="13.1" text-anchor="middle" font-weight="normal" fill="#0d0d0d" >T3</text>
<circle cx="589.70" cy="1118.20" r="4.2" fill="#612F82" fill-opacity="0.6"/>
<circle cx="589.70" cy="1123.00" r="4.2" fill="#612F82" fill-opacity="0.6"/>
<circle cx="589.70" cy="1125.40" r="4.2" fill="#612F82" fill-opacity="0.6"/>
<circle cx="589.70" cy="1127.80" r="4.2" fill="#612F82" fill-opacity="0.6"/>
<circle cx="589.70" cy="1128.00" r="4.2" fill="#612F82" fill-opacity="0.6"/>
<circle cx="589.70" cy="1130.20" r="4.2" fill="#612F82" fill-opacity="0.6"/>
<circle cx="589.70" cy="1131.00" r="4.2" fill="#612F82" fill-opacity="0.6"/>
<circle cx="589.70" cy="1132.60" r="4.2" fill="#612F82" fill-opacity="0.6"/>
<circle cx="589.70" cy="1135.00" r="4.2" fill="#612F82" fill-opacity="0.6"/>
<circle cx="589.70" cy="1141.50" r="4.2" fill="#612F82" fill-opacity="0.6"/>
<circle cx="589.70" cy="1145.00" r="4.2" fill="#612F82" fill-opacity="0.6"/>
<circle cx="589.70" cy="1148.90" r="4.2" fill="#612F82" fill-opacity="0.6"/>
<circle cx="625.70" cy="1110.10" r="4.2" fill="#612F82" fill-opacity="0.6"/>
<circle cx="625.70" cy="1121.40" r="4.2" fill="#612F82" fill-opacity="0.6"/>
<circle cx="625.70" cy="1136.60" r="4.2" fill="#612F82" fill-opacity="0.6"/>
<circle cx="625.70" cy="1137.00" r="4.2" fill="#612F82" fill-opacity="0.6"/>
<circle cx="625.70" cy="1138.00" r="4.2" fill="#612F82" fill-opacity="0.6"/>
<circle cx="625.70" cy="1139.10" r="4.2" fill="#612F82" fill-opacity="0.6"/>
<circle cx="625.70" cy="1140.00" r="4.2" fill="#612F82" fill-opacity="0.6"/>
<circle cx="625.70" cy="1141.50" r="4.2" fill="#612F82" fill-opacity="0.6"/>
<circle cx="625.70" cy="1142.00" r="4.2" fill="#612F82" fill-opacity="0.6"/>
<circle cx="625.70" cy="1143.90" r="4.2" fill="#612F82" fill-opacity="0.6"/>
<circle cx="625.70" cy="1144.00" r="4.2" fill="#612F82" fill-opacity="0.6"/>
<circle cx="625.70" cy="1145.70" r="4.2" fill="#612F82" fill-opacity="0.6"/>
<circle cx="661.70" cy="1095.70" r="4.2" fill="#612F82" fill-opacity="0.6"/>
<circle cx="661.70" cy="1099.70" r="4.2" fill="#612F82" fill-opacity="0.6"/>
<circle cx="661.70" cy="1110.10" r="4.2" fill="#612F82" fill-opacity="0.6"/>
<circle cx="661.70" cy="1113.40" r="4.2" fill="#612F82" fill-opacity="0.6"/>
<circle cx="661.70" cy="1115.00" r="4.2" fill="#612F82" fill-opacity="0.6"/>
<circle cx="661.70" cy="1116.60" r="4.2" fill="#612F82" fill-opacity="0.6"/>
<circle cx="661.70" cy="1119.80" r="4.2" fill="#612F82" fill-opacity="0.6"/>
<circle cx="661.70" cy="1120.00" r="4.2" fill="#612F82" fill-opacity="0.6"/>
<circle cx="661.70" cy="1123.00" r="4.2" fill="#612F82" fill-opacity="0.6"/>
<circle cx="661.70" cy="1126.20" r="4.2" fill="#612F82" fill-opacity="0.6"/>
<circle cx="661.70" cy="1133.40" r="4.2" fill="#612F82" fill-opacity="0.6"/>
<circle cx="661.70" cy="1135.80" r="4.2" fill="#612F82" fill-opacity="0.6"/>
<path d="M589.70,1123.00 L625.70,1110.10 L661.70,1099.70" fill="none" stroke="#d4d4d4" stroke-width="0.9"/>
<path d="M589.70,1128.00 L625.70,1136.60 L661.70,1115.00" fill="none" stroke="#d4d4d4" stroke-width="0.9"/>
<path d="M589.70,1130.20 L625.70,1121.40 L661.70,1116.60" fill="none" stroke="#d4d4d4" stroke-width="0.9"/>
<path d="M589.70,1131.00 L625.70,1137.00 L661.70,1095.70" fill="none" stroke="#d4d4d4" stroke-width="0.9"/>
<path d="M589.70,1125.40 L625.70,1142.00 L661.70,1120.00" fill="none" stroke="#d4d4d4" stroke-width="0.9"/>
<path d="M589.70,1118.20 L625.70,1138.00 L661.70,1119.80" fill="none" stroke="#d4d4d4" stroke-width="0.9"/>
<path d="M589.70,1127.80 L625.70,1139.10 L661.70,1110.10" fill="none" stroke="#d4d4d4" stroke-width="0.9"/>
<path d="M589.70,1132.60 L625.70,1140.00 L661.70,1123.00" fill="none" stroke="#d4d4d4" stroke-width="0.9"/>
<path d="M589.70,1148.90 L625.70,1144.00 L661.70,1113.40" fill="none" stroke="#d4d4d4" stroke-width="0.9"/>
<path d="M589.70,1141.50 L625.70,1141.50 L661.70,1135.80" fill="none" stroke="#d4d4d4" stroke-width="0.9"/>
<path d="M589.70,1135.00 L625.70,1143.90 L661.70,1126.20" fill="none" stroke="#d4d4d4" stroke-width="0.9"/>
<path d="M589.70,1145.00 L625.70,1145.70 L661.70,1133.40" fill="none" stroke="#d4d4d4" stroke-width="0.9"/>
<line x1="580.00" y1="1133.10" x2="599.40" y2="1133.10" stroke="#000" stroke-width="2.1" />
<line x1="616.00" y1="1136.60" x2="635.40" y2="1136.60" stroke="#000" stroke-width="2.1" />
<line x1="652.00" y1="1117.50" x2="671.40" y2="1117.50" stroke="#000" stroke-width="2.1" />
<text x="589.70" y="1035.60" font-size="10.6" text-anchor="middle" font-weight="normal" fill="#0d0d0d" >0.009</text>
<text x="625.70" y="1008.00" font-size="10.6" text-anchor="middle" font-weight="normal" fill="#0d0d0d" >ns</text>
<text x="625.70" y="1021.40" font-size="10.6" text-anchor="middle" font-weight="normal" fill="#0d0d0d" >0.95x</text>
<text x="625.70" y="1035.60" font-size="10.6" text-anchor="middle" font-weight="normal" fill="#0d0d0d" >0.009</text>
<text x="661.70" y="1010.60" font-size="10.6" text-anchor="middle" font-weight="normal" fill="#0d0d0d" >*</text>
<text x="661.70" y="1021.40" font-size="10.6" text-anchor="middle" font-weight="normal" fill="#0d0d0d" >2.6x</text>
<text x="661.70" y="1035.60" font-size="10.6" text-anchor="middle" font-weight="normal" fill="#0d0d0d" >0.025</text>
<text x="1.60" y="1281.30" font-size="16" text-anchor="start" font-weight="bold" fill="#000" >e</text>
<line x1="68.60" y1="1293.60" x2="68.60" y2="1509.50" stroke="#111111" stroke-width="1.4" />
<line x1="62.40" y1="1317.00" x2="68.60" y2="1317.00" stroke="#111111" stroke-width="1.4" />
<text x="58.40" y="1323.50" font-size="13.1" text-anchor="end" fill="#0d0d0d">10<tspan font-size="8.8" dy="-5.4">−0.5</tspan></text>
<line x1="62.40" y1="1353.48" x2="68.60" y2="1353.48" stroke="#111111" stroke-width="1.4" />
<text x="58.40" y="1359.98" font-size="13.1" text-anchor="end" fill="#0d0d0d">10<tspan font-size="8.8" dy="-5.4">−1</tspan></text>
<line x1="62.40" y1="1389.96" x2="68.60" y2="1389.96" stroke="#111111" stroke-width="1.4" />
<text x="58.40" y="1396.46" font-size="13.1" text-anchor="end" fill="#0d0d0d">10<tspan font-size="8.8" dy="-5.4">−1.5</tspan></text>
<line x1="62.40" y1="1426.44" x2="68.60" y2="1426.44" stroke="#111111" stroke-width="1.4" />
<text x="58.40" y="1432.94" font-size="13.1" text-anchor="end" fill="#0d0d0d">10<tspan font-size="8.8" dy="-5.4">−2</tspan></text>
<line x1="62.40" y1="1462.92" x2="68.60" y2="1462.92" stroke="#111111" stroke-width="1.4" />
<text x="58.40" y="1469.42" font-size="13.1" text-anchor="end" fill="#0d0d0d">10<tspan font-size="8.8" dy="-5.4">−2.5</tspan></text>
<line x1="62.40" y1="1499.40" x2="68.60" y2="1499.40" stroke="#111111" stroke-width="1.4" />
<text x="58.40" y="1505.90" font-size="13.1" text-anchor="end" fill="#0d0d0d">10<tspan font-size="8.8" dy="-5.4">−3</tspan></text>
<text transform="translate(15.2,1400) rotate(-90)" font-size="13.1" text-anchor="middle" fill="#0d0d0d">pVNT<tspan font-size="9" dy="2.5">50</tspan><tspan dy="-2.5"> Titer/ RBD IgG Titer</tspan></text>
<text x="124.60" y="1293.40" font-size="13.1" text-anchor="middle" font-weight="normal" fill="#0d0d0d" >WT</text>
<line x1="68.60" y1="1509.00" x2="181.60" y2="1509.00" stroke="#111111" stroke-width="1.4" />
<line x1="89.60" y1="1509.00" x2="89.60" y2="1515.00" stroke="#111111" stroke-width="1.4" />
<text x="89.60" y="1529.00" font-size="13.1" text-anchor="middle" font-weight="normal" fill="#0d0d0d" >T1</text>
<line x1="124.90" y1="1509.00" x2="124.90" y2="1515.00" stroke="#111111" stroke-width="1.4" />
<text x="124.90" y="1529.00" font-size="13.1" text-anchor="middle" font-weight="normal" fill="#0d0d0d" >T2</text>
<line x1="160.20" y1="1509.00" x2="160.20" y2="1515.00" stroke="#111111" stroke-width="1.4" />
<text x="160.20" y="1529.00" font-size="13.1" text-anchor="middle" font-weight="normal" fill="#0d0d0d" >T3</text>
<path d="M89.60,1369.80 L124.90,1357.70 L160.20,1371.70" fill="none" stroke="#EC7370" stroke-width="1.45"/>
<line x1="89.60" y1="1364.60" x2="89.60" y2="1375.60" stroke="#EC7370" stroke-width="1.35" />
<circle cx="89.60" cy="1369.80" r="2.4" fill="#EC7370" fill-opacity="1"/>
<line x1="124.90" y1="1352.00" x2="124.90" y2="1363.00" stroke="#EC7370" stroke-width="1.35" />
<circle cx="124.90" cy="1357.70" r="2.4" fill="#EC7370" fill-opacity="1"/>
<line x1="160.20" y1="1367.50" x2="160.20" y2="1376.00" stroke="#EC7370" stroke-width="1.35" />
<circle cx="160.20" cy="1371.70" r="2.4" fill="#EC7370" fill-opacity="1"/>
<path d="M89.60,1373.00 L124.90,1359.30 L160.20,1361.20" fill="none" stroke="#72DACB" stroke-width="1.45"/>
<line x1="89.60" y1="1367.70" x2="89.60" y2="1380.90" stroke="#72DACB" stroke-width="1.35" />
<circle cx="89.60" cy="1373.00" r="2.4" fill="#72DACB" fill-opacity="1"/>
<line x1="124.90" y1="1348.00" x2="124.90" y2="1370.40" stroke="#72DACB" stroke-width="1.35" />
<circle cx="124.90" cy="1359.30" r="2.4" fill="#72DACB" fill-opacity="1"/>
<line x1="160.20" y1="1350.60" x2="160.20" y2="1371.70" stroke="#72DACB" stroke-width="1.35" />
<circle cx="160.20" cy="1361.20" r="2.4" fill="#72DACB" fill-opacity="1"/>
<text x="89.60" y="1340.20" font-size="13.1" text-anchor="middle" font-weight="normal" fill="#0d0d0d" >ns</text>
<text x="124.90" y="1340.20" font-size="13.1" text-anchor="middle" font-weight="normal" fill="#0d0d0d" >ns</text>
<text x="160.20" y="1340.20" font-size="13.1" text-anchor="middle" font-weight="normal" fill="#0d0d0d" >ns</text>
<text x="249.85" y="1293.40" font-size="13.1" text-anchor="middle" font-weight="normal" fill="#0d0d0d" >BA.5</text>
<line x1="193.85" y1="1509.00" x2="306.85" y2="1509.00" stroke="#111111" stroke-width="1.4" />
<line x1="214.85" y1="1509.00" x2="214.85" y2="1515.00" stroke="#111111" stroke-width="1.4" />
<text x="214.85" y="1529.00" font-size="13.1" text-anchor="middle" font-weight="normal" fill="#0d0d0d" >T1</text>
<line x1="250.15" y1="1509.00" x2="250.15" y2="1515.00" stroke="#111111" stroke-width="1.4" />
<text x="250.15" y="1529.00" font-size="13.1" text-anchor="middle" font-weight="normal" fill="#0d0d0d" >T2</text>
<line x1="285.45" y1="1509.00" x2="285.45" y2="1515.00" stroke="#111111" stroke-width="1.4" />
<text x="285.45" y="1529.00" font-size="13.1" text-anchor="middle" font-weight="normal" fill="#0d0d0d" >T3</text>
<path d="M214.85,1402.20 L250.15,1378.20 L285.45,1369.30" fill="none" stroke="#EC7370" stroke-width="1.45"/>
<circle cx="214.85" cy="1402.20" r="2.4" fill="#EC7370" fill-opacity="1"/>
<line x1="250.15" y1="1369.80" x2="250.15" y2="1386.90" stroke="#EC7370" stroke-width="1.35" />
<circle cx="250.15" cy="1378.20" r="2.4" fill="#EC7370" fill-opacity="1"/>
<line x1="285.45" y1="1362.00" x2="285.45" y2="1377.20" stroke="#EC7370" stroke-width="1.35" />
<circle cx="285.45" cy="1369.30" r="2.4" fill="#EC7370" fill-opacity="1"/>
<path d="M214.85,1402.20 L250.15,1398.70 L285.45,1406.60" fill="none" stroke="#72DACB" stroke-width="1.45"/>
<line x1="214.85" y1="1391.40" x2="214.85" y2="1413.20" stroke="#72DACB" stroke-width="1.35" />
<circle cx="214.85" cy="1402.20" r="2.4" fill="#72DACB" fill-opacity="1"/>
<line x1="250.15" y1="1385.60" x2="250.15" y2="1411.90" stroke="#72DACB" stroke-width="1.35" />
<circle cx="250.15" cy="1398.70" r="2.4" fill="#72DACB" fill-opacity="1"/>
<line x1="285.45" y1="1396.60" x2="285.45" y2="1417.10" stroke="#72DACB" stroke-width="1.35" />
<circle cx="285.45" cy="1406.60" r="2.4" fill="#72DACB" fill-opacity="1"/>
<text x="212.35" y="1360.40" font-size="13.1" text-anchor="middle" font-weight="normal" fill="#0d0d0d" >ns</text>
<text x="247.65" y="1360.40" font-size="13.1" text-anchor="middle" font-weight="normal" fill="#0d0d0d" >ns</text>
<text x="285.45" y="1360.70" font-size="13.1" text-anchor="middle" font-weight="normal" fill="#0d0d0d" >*</text>
<text x="375.10" y="1293.40" font-size="13.1" text-anchor="middle" font-weight="normal" fill="#0d0d0d" >XBB.1.5</text>
<line x1="319.10" y1="1509.00" x2="432.10" y2="1509.00" stroke="#111111" stroke-width="1.4" />
<line x1="340.10" y1="1509.00" x2="340.10" y2="1515.00" stroke="#111111" stroke-width="1.4" />
<text x="340.10" y="1529.00" font-size="13.1" text-anchor="middle" font-weight="normal" fill="#0d0d0d" >T1</text>
<line x1="375.40" y1="1509.00" x2="375.40" y2="1515.00" stroke="#111111" stroke-width="1.4" />
<text x="375.40" y="1529.00" font-size="13.1" text-anchor="middle" font-weight="normal" fill="#0d0d0d" >T2</text>
<line x1="410.70" y1="1509.00" x2="410.70" y2="1515.00" stroke="#111111" stroke-width="1.4" />
<text x="410.70" y="1529.00" font-size="13.1" text-anchor="middle" font-weight="normal" fill="#0d0d0d" >T3</text>
<path d="M340.10,1477.00 L375.40,1467.60 L410.70,1424.50" fill="none" stroke="#EC7370" stroke-width="1.45"/>
<line x1="340.10" y1="1471.00" x2="340.10" y2="1483.00" stroke="#EC7370" stroke-width="1.35" />
<circle cx="340.10" cy="1477.00" r="2.4" fill="#EC7370" fill-opacity="1"/>
<line x1="375.40" y1="1463.50" x2="375.40" y2="1471.50" stroke="#EC7370" stroke-width="1.35" />
<circle cx="375.40" cy="1467.60" r="2.4" fill="#EC7370" fill-opacity="1"/>
<line x1="410.70" y1="1418.40" x2="410.70" y2="1430.30" stroke="#EC7370" stroke-width="1.35" />
<circle cx="410.70" cy="1424.50" r="2.4" fill="#EC7370" fill-opacity="1"/>
<path d="M340.10,1482.30 L375.40,1476.80 L410.70,1458.60" fill="none" stroke="#72DACB" stroke-width="1.45"/>
<line x1="340.10" y1="1476.30" x2="340.10" y2="1488.30" stroke="#72DACB" stroke-width="1.35" />
<circle cx="340.10" cy="1482.30" r="2.4" fill="#72DACB" fill-opacity="1"/>
<line x1="375.40" y1="1471.00" x2="375.40" y2="1482.50" stroke="#72DACB" stroke-width="1.35" />
<circle cx="375.40" cy="1476.80" r="2.4" fill="#72DACB" fill-opacity="1"/>
<line x1="410.70" y1="1452.60" x2="410.70" y2="1464.40" stroke="#72DACB" stroke-width="1.35" />
<circle cx="410.70" cy="1458.60" r="2.4" fill="#72DACB" fill-opacity="1"/>
<text x="340.10" y="1418.20" font-size="13.1" text-anchor="middle" font-weight="normal" fill="#0d0d0d" >ns</text>
<text x="375.40" y="1418.20" font-size="13.1" text-anchor="middle" font-weight="normal" fill="#0d0d0d" >ns</text>
<text x="410.70" y="1418.50" font-size="13.1" text-anchor="middle" font-weight="normal" fill="#0d0d0d" >***</text>
<text x="500.35" y="1293.40" font-size="13.1" text-anchor="middle" font-weight="normal" fill="#0d0d0d" >JN.1</text>
<line x1="444.35" y1="1509.00" x2="557.35" y2="1509.00" stroke="#111111" stroke-width="1.4" />
<line x1="465.35" y1="1509.00" x2="465.35" y2="1515.00" stroke="#111111" stroke-width="1.4" />
<text x="465.35" y="1529.00" font-size="13.1" text-anchor="middle" font-weight="normal" fill="#0d0d0d" >T1</text>
<line x1="500.65" y1="1509.00" x2="500.65" y2="1515.00" stroke="#111111" stroke-width="1.4" />
<text x="500.65" y="1529.00" font-size="13.1" text-anchor="middle" font-weight="normal" fill="#0d0d0d" >T2</text>
<line x1="535.95" y1="1509.00" x2="535.95" y2="1515.00" stroke="#111111" stroke-width="1.4" />
<text x="535.95" y="1529.00" font-size="13.1" text-anchor="middle" font-weight="normal" fill="#0d0d0d" >T3</text>
<path d="M465.35,1453.00 L500.65,1461.20 L535.95,1412.90" fill="none" stroke="#EC7370" stroke-width="1.45"/>
<line x1="465.35" y1="1442.20" x2="465.35" y2="1463.70" stroke="#EC7370" stroke-width="1.35" />
<circle cx="465.35" cy="1453.00" r="2.4" fill="#EC7370" fill-opacity="1"/>
<line x1="500.65" y1="1453.00" x2="500.65" y2="1469.40" stroke="#EC7370" stroke-width="1.35" />
<circle cx="500.65" cy="1461.20" r="2.4" fill="#EC7370" fill-opacity="1"/>
<line x1="535.95" y1="1401.50" x2="535.95" y2="1425.40" stroke="#EC7370" stroke-width="1.35" />
<circle cx="535.95" cy="1412.90" r="2.4" fill="#EC7370" fill-opacity="1"/>
<path d="M465.35,1454.80 L500.65,1419.00 L535.95,1440.80" fill="none" stroke="#72DACB" stroke-width="1.45"/>
<line x1="465.35" y1="1443.30" x2="465.35" y2="1466.60" stroke="#72DACB" stroke-width="1.35" />
<circle cx="465.35" cy="1454.80" r="2.4" fill="#72DACB" fill-opacity="1"/>
<line x1="500.65" y1="1418.00" x2="500.65" y2="1420.00" stroke="#72DACB" stroke-width="1.35" />
<circle cx="500.65" cy="1419.00" r="2.4" fill="#72DACB" fill-opacity="1"/>
<line x1="535.95" y1="1430.80" x2="535.95" y2="1451.50" stroke="#72DACB" stroke-width="1.35" />
<circle cx="535.95" cy="1440.80" r="2.4" fill="#72DACB" fill-opacity="1"/>
<text x="465.35" y="1394.00" font-size="13.1" text-anchor="middle" font-weight="normal" fill="#0d0d0d" >ns</text>
<text x="500.65" y="1394.00" font-size="13.1" text-anchor="middle" font-weight="normal" fill="#0d0d0d" >ns</text>
<text x="535.95" y="1394.00" font-size="13.1" text-anchor="middle" font-weight="normal" fill="#0d0d0d" >ns</text>
<text x="625.60" y="1293.40" font-size="13.1" text-anchor="middle" font-weight="normal" fill="#0d0d0d" >KP.3</text>
<line x1="569.60" y1="1509.00" x2="682.60" y2="1509.00" stroke="#111111" stroke-width="1.4" />
<line x1="590.60" y1="1509.00" x2="590.60" y2="1515.00" stroke="#111111" stroke-width="1.4" />
<text x="590.60" y="1529.00" font-size="13.1" text-anchor="middle" font-weight="normal" fill="#0d0d0d" >T1</text>
<line x1="625.90" y1="1509.00" x2="625.90" y2="1515.00" stroke="#111111" stroke-width="1.4" />
<text x="625.90" y="1529.00" font-size="13.1" text-anchor="middle" font-weight="normal" fill="#0d0d0d" >T2</text>
<line x1="661.20" y1="1509.00" x2="661.20" y2="1515.00" stroke="#111111" stroke-width="1.4" />
<text x="661.20" y="1529.00" font-size="13.1" text-anchor="middle" font-weight="normal" fill="#0d0d0d" >T3</text>
<path d="M590.60,1431.50 L625.90,1436.90 L661.20,1404.70" fill="none" stroke="#EC7370" stroke-width="1.45"/>
<line x1="590.60" y1="1427.00" x2="590.60" y2="1436.00" stroke="#EC7370" stroke-width="1.35" />
<circle cx="590.60" cy="1431.50" r="2.4" fill="#EC7370" fill-opacity="1"/>
<line x1="625.90" y1="1429.00" x2="625.90" y2="1445.10" stroke="#EC7370" stroke-width="1.35" />
<circle cx="625.90" cy="1436.90" r="2.4" fill="#EC7370" fill-opacity="1"/>
<line x1="661.20" y1="1397.90" x2="661.20" y2="1409.30" stroke="#EC7370" stroke-width="1.35" />
<circle cx="661.20" cy="1404.70" r="2.4" fill="#EC7370" fill-opacity="1"/>
<path d="M590.60,1433.70 L625.90,1420.80 L661.20,1414.70" fill="none" stroke="#72DACB" stroke-width="1.45"/>
<line x1="590.60" y1="1426.50" x2="590.60" y2="1440.80" stroke="#72DACB" stroke-width="1.35" />
<circle cx="590.60" cy="1433.70" r="2.4" fill="#72DACB" fill-opacity="1"/>
<line x1="625.90" y1="1407.60" x2="625.90" y2="1434.40" stroke="#72DACB" stroke-width="1.35" />
<circle cx="625.90" cy="1420.80" r="2.4" fill="#72DACB" fill-opacity="1"/>
<line x1="661.20" y1="1404.00" x2="661.20" y2="1426.50" stroke="#72DACB" stroke-width="1.35" />
<circle cx="661.20" cy="1414.70" r="2.4" fill="#72DACB" fill-opacity="1"/>
<text x="590.60" y="1394.00" font-size="13.1" text-anchor="middle" font-weight="normal" fill="#0d0d0d" >ns</text>
<text x="625.90" y="1394.00" font-size="13.1" text-anchor="middle" font-weight="normal" fill="#0d0d0d" >ns</text>
<text x="661.20" y="1394.00" font-size="13.1" text-anchor="middle" font-weight="normal" fill="#0d0d0d" >ns</text>
<line x1="548.10" y1="1314.80" x2="578.30" y2="1314.80" stroke="#72DACB" stroke-width="2.0" />
<circle cx="563.20" cy="1314.80" r="2.3" fill="#72DACB" fill-opacity="1.0"/>
<line x1="548.10" y1="1332.10" x2="578.30" y2="1332.10" stroke="#EC7370" stroke-width="2.0" />
<circle cx="563.20" cy="1332.10" r="2.3" fill="#EC7370" fill-opacity="1.0"/>
<text x="591.00" y="1319.80" font-size="13.0" text-anchor="start" font-weight="normal" fill="#0d0d0d" >Single infection</text>
<text x="591.00" y="1336.90" font-size="13.0" text-anchor="start" font-weight="normal" fill="#0d0d0d" >Double infection</text>
</svg>
</body></html>
